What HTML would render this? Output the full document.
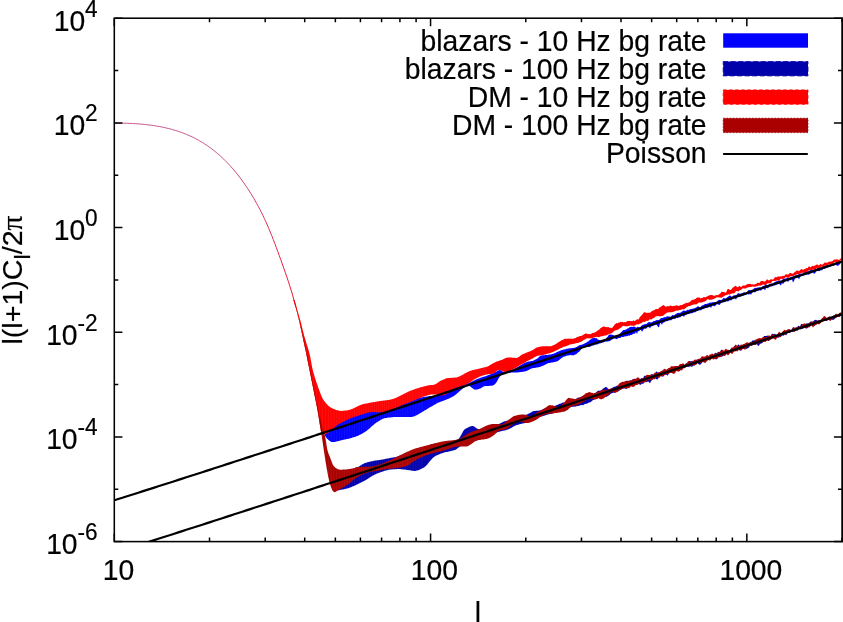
<!DOCTYPE html>
<html><head><meta charset="utf-8"><title>plot</title>
<style>html,body{margin:0;padding:0;background:#fff}body{width:843px;height:622px;overflow:hidden}</style></head>
<body><svg width="843" height="622" viewBox="0 0 843 622" style="display:block;will-change:transform;font-family:'Liberation Sans',sans-serif" fill="#000">
<style>text{stroke:#000;stroke-width:0.2px}</style>
<rect width="843" height="622" fill="#fff"/>
<defs><linearGradient id="tg" gradientUnits="userSpaceOnUse" x1="0" y1="150" x2="0" y2="300"><stop offset="0" stop-color="#c4508a"/><stop offset="0.5" stop-color="#dc3058"/><stop offset="1" stop-color="#f01030"/></linearGradient><clipPath id="c"><rect x="114.3" y="18.2" width="727.75" height="523.4"/></clipPath></defs>
<g clip-path="url(#c)">
<polygon id="pb" fill="#0000ff" points="324.5,435.0 325.5,436.5 326.5,437.9 327.5,439.0 328.5,439.9 329.5,440.8 330.5,441.6 331.5,442.0 332.5,442.1 333.5,442.0 334.5,441.9 335.5,441.7 336.5,441.5 337.5,441.2 338.5,440.9 339.5,440.7 340.5,440.4 341.5,440.2 342.5,440.0 343.5,439.8 344.5,439.6 345.5,439.4 346.5,439.1 347.5,438.9 348.5,438.7 349.5,438.4 350.5,438.2 351.5,437.9 352.5,437.6 353.5,437.3 354.5,437.0 355.5,436.7 356.5,436.3 357.5,435.9 358.5,435.4 359.5,435.0 360.5,434.4 361.5,433.9 362.5,433.4 363.5,432.8 364.5,432.2 365.5,431.6 366.5,430.9 367.5,430.1 368.5,429.3 369.5,428.4 370.5,427.5 371.5,426.6 372.5,425.7 373.5,424.9 374.5,424.0 375.5,423.2 376.5,422.6 377.5,421.9 378.5,421.3 379.5,420.7 380.5,420.1 381.5,419.5 382.5,419.0 383.5,418.6 384.5,418.2 385.5,418.0 386.5,417.9 387.5,417.7 388.5,417.6 389.5,417.5 390.5,417.4 391.5,417.3 392.5,417.2 393.5,417.1 394.5,417.1 395.5,417.0 396.5,417.0 397.5,417.0 398.5,417.0 399.5,417.0 400.5,417.0 401.5,417.1 402.5,417.1 403.5,417.1 404.5,417.1 405.5,417.1 406.5,417.1 407.5,417.1 408.5,417.1 409.5,417.1 410.5,417.1 411.5,416.9 412.5,416.7 413.5,416.5 414.5,416.2 415.5,415.8 416.5,415.3 417.5,414.8 418.5,414.2 419.5,413.6 420.5,413.0 421.5,412.4 422.5,411.8 423.5,411.2 424.5,410.6 425.5,410.0 426.5,409.4 427.5,408.8 428.5,408.2 429.5,407.6 430.5,407.0 431.5,406.4 432.5,405.9 433.5,405.3 434.5,404.7 435.5,404.2 436.5,403.6 437.5,403.1 438.5,402.6 439.5,402.2 440.5,401.8 441.5,401.4 442.5,401.0 443.5,400.7 444.5,400.3 445.5,399.9 446.5,399.6 447.5,399.1 448.5,398.7 449.5,398.3 450.5,397.8 451.5,397.3 452.5,396.8 453.5,396.2 454.5,395.6 455.5,394.8 456.5,394.0 457.5,393.1 458.5,392.2 459.5,391.3 460.5,390.5 461.5,389.6 462.5,388.7 463.5,387.9 464.5,387.2 465.5,386.7 466.5,386.4 467.5,386.1 468.5,385.9 469.5,385.8 470.5,386.7 471.5,387.5 472.5,388.3 473.5,389.0 474.5,389.4 475.5,389.7 476.5,389.6 477.5,389.4 478.5,389.1 479.5,388.8 480.5,388.4 481.5,387.8 482.5,387.2 483.5,386.6 484.5,386.3 485.5,386.1 486.5,386.0 487.5,386.0 488.5,385.9 489.5,385.8 490.5,385.8 491.5,385.7 492.5,385.5 493.5,385.3 494.5,384.6 495.5,383.5 496.5,382.2 497.5,380.6 498.5,378.5 499.5,376.9 500.5,375.8 501.5,374.9 502.5,374.4 503.5,374.0 504.5,373.7 505.5,373.4 506.5,373.1 507.5,372.9 508.5,372.8 509.5,372.7 510.5,372.7 511.5,372.6 512.5,372.6 513.5,372.5 514.5,372.5 515.5,372.5 516.5,372.4 517.5,372.4 518.5,372.3 519.5,372.2 520.5,372.1 521.5,372.0 522.5,371.8 523.5,371.7 524.5,371.5 525.5,371.3 526.5,370.9 527.5,370.5 528.5,370.0 529.5,369.4 530.5,369.0 531.5,368.6 532.5,368.3 533.5,368.1 534.5,367.9 535.5,367.8 536.5,367.6 537.5,367.4 538.5,367.2 539.5,367.0 540.5,366.7 541.5,366.3 542.5,365.9 543.5,365.4 544.5,364.9 545.5,364.5 546.5,364.0 547.5,363.5 548.5,363.1 549.5,362.9 550.5,362.7 551.5,362.6 552.5,362.5 553.5,362.3 554.5,362.1 555.5,361.8 556.5,361.6 557.5,361.2 558.5,360.4 559.5,359.8 560.5,359.1 561.5,358.1 562.5,357.5 563.5,356.8 564.5,356.4 565.5,356.2 566.5,355.8 567.5,355.4 568.5,355.4 569.5,355.2 570.5,355.0 571.5,355.3 572.5,355.3 573.5,355.4 574.5,354.8 575.5,354.5 576.5,354.0 577.5,353.1 578.5,352.1 579.5,351.4 580.5,350.0 581.5,348.9 582.5,347.4 583.5,346.9 584.5,346.2 585.5,346.8 586.5,346.7 587.5,346.9 588.5,346.7 589.5,347.1 590.5,346.6 591.5,345.8 592.5,345.6 593.5,345.5 594.5,344.9 595.5,344.6 596.5,344.6 597.5,344.4 598.5,343.8 599.5,343.4 600.5,343.3 601.5,343.1 602.5,342.6 603.5,342.6 604.5,341.8 605.5,341.6 606.5,341.6 607.5,341.6 608.5,341.3 609.5,341.3 610.5,340.6 611.5,339.9 612.5,339.2 613.5,338.8 614.5,338.4 615.5,338.7 616.5,339.2 617.5,338.8 618.5,338.0 619.5,338.0 620.5,337.9 621.5,336.8 622.5,336.9 623.5,337.0 624.5,336.6 625.5,336.3 626.5,336.2 627.5,336.1 628.5,335.6 629.5,335.8 630.5,335.1 631.5,335.0 632.5,334.3 633.5,333.8 634.5,333.4 635.0,333.7 636.0,331.7 637.0,334.3 638.0,330.8 639.0,331.4 640.0,330.0 641.0,329.9 642.0,331.7 643.0,330.3 644.0,328.8 645.0,328.4 646.0,329.1 647.0,327.6 648.0,327.3 649.0,326.9 650.0,328.5 651.0,326.5 652.0,326.2 653.0,325.8 654.0,325.4 655.0,325.0 656.0,324.7 657.0,325.0 658.0,326.9 659.0,327.2 660.0,323.5 661.0,323.1 662.0,324.9 663.0,322.4 664.0,322.7 665.0,321.6 666.0,321.3 667.0,321.2 668.0,320.8 669.0,320.5 670.0,320.1 671.0,320.5 672.0,319.4 673.0,318.9 674.0,318.6 675.0,319.3 676.0,317.9 677.0,317.8 678.0,318.3 679.0,316.9 680.0,317.4 681.0,316.4 682.0,316.1 683.0,315.8 684.0,316.9 685.0,315.0 686.0,314.8 687.0,314.5 688.0,314.0 689.0,313.9 690.0,313.6 691.0,313.2 692.0,313.2 693.0,312.9 694.0,312.0 695.0,312.4 696.0,311.5 697.0,311.2 698.0,310.7 699.0,310.4 700.0,309.9 701.0,310.5 702.0,309.3 703.0,309.2 704.0,308.7 705.0,308.3 706.0,308.1 707.0,307.7 708.0,307.7 709.0,306.9 710.0,306.6 711.0,307.9 712.0,306.1 713.0,305.6 714.0,306.3 715.0,306.3 716.0,304.7 717.0,304.3 718.0,304.2 719.0,305.1 720.0,304.5 721.0,302.9 722.0,302.6 723.0,302.5 724.0,302.2 725.0,301.9 726.0,301.4 727.0,301.1 728.0,301.7 729.0,300.4 730.0,300.3 731.0,300.4 732.0,299.5 733.0,298.9 734.0,298.6 735.0,298.4 736.0,299.7 737.0,297.6 738.0,297.3 739.0,297.0 740.0,296.7 741.0,296.4 742.0,296.0 743.0,295.8 744.0,295.4 745.0,295.0 746.0,294.7 747.0,294.4 748.0,294.1 749.0,294.7 750.0,293.5 751.0,295.0 752.0,292.8 753.0,292.3 754.0,292.0 755.0,292.6 756.0,291.4 757.0,291.0 758.0,290.7 759.0,290.4 760.0,290.2 761.0,290.7 762.0,289.3 763.0,289.3 764.0,288.8 765.0,290.4 766.0,288.1 767.0,287.7 768.0,288.5 769.0,287.1 770.0,286.8 771.0,286.3 772.0,286.6 773.0,285.8 774.0,285.5 775.0,285.5 776.0,284.8 777.0,284.6 778.0,284.2 779.0,283.6 780.0,284.8 781.0,285.5 782.0,282.7 783.0,284.2 784.0,282.4 785.0,281.8 786.0,281.3 787.0,281.0 788.0,281.9 789.0,280.6 790.0,280.2 791.0,279.7 792.0,279.5 793.0,282.5 794.0,281.0 795.0,278.3 796.0,278.2 797.0,277.8 798.0,277.5 799.0,279.4 800.0,276.9 801.0,276.3 802.0,276.1 803.0,275.8 804.0,275.5 805.0,275.0 806.0,274.6 807.0,274.6 808.0,274.5 809.0,274.7 810.0,273.6 811.0,273.2 812.0,273.2 813.0,272.3 814.0,273.8 815.0,273.5 816.0,271.4 817.0,271.1 818.0,270.9 819.0,271.3 820.0,270.8 821.0,269.9 822.0,270.5 823.0,268.9 824.0,268.6 825.0,269.1 826.0,268.0 827.0,267.7 828.0,267.4 829.0,267.1 830.0,266.9 831.0,266.3 832.0,265.9 833.0,265.7 834.0,265.4 835.0,265.0 836.0,264.6 837.0,265.9 838.0,265.5 839.0,265.3 840.0,263.5 841.0,263.0 842.0,262.7 842.0,260.8 841.0,261.2 840.0,261.2 839.0,261.4 838.0,261.7 837.0,261.6 836.0,262.2 835.0,262.9 834.0,263.5 833.0,264.1 832.0,264.4 831.0,263.8 830.0,264.0 829.0,265.0 828.0,265.3 827.0,265.0 826.0,265.2 825.0,266.0 824.0,266.3 823.0,265.9 822.0,266.9 821.0,268.0 820.0,267.5 819.0,267.4 818.0,267.9 817.0,268.4 816.0,269.3 815.0,269.4 814.0,269.1 813.0,269.9 812.0,270.3 811.0,269.8 810.0,270.6 809.0,271.3 808.0,271.4 807.0,271.2 806.0,271.2 805.0,272.1 804.0,272.8 803.0,273.4 802.0,273.8 801.0,273.5 800.0,273.8 799.0,274.2 798.0,274.4 797.0,275.2 796.0,275.2 795.0,275.2 794.0,276.2 793.0,276.5 792.0,276.7 791.0,276.7 790.0,277.4 789.0,278.0 788.0,277.7 787.0,278.0 786.0,278.4 785.0,278.6 784.0,278.7 783.0,279.0 782.0,280.2 781.0,280.7 780.0,280.4 779.0,280.7 778.0,281.2 777.0,281.1 776.0,281.5 775.0,281.9 774.0,282.4 773.0,283.4 772.0,283.5 771.0,283.8 770.0,283.8 769.0,284.6 768.0,285.0 767.0,284.7 766.0,284.5 765.0,285.1 764.0,285.9 763.0,285.8 762.0,286.7 761.0,287.8 760.0,287.5 759.0,287.3 758.0,287.5 757.0,287.7 756.0,287.9 755.0,287.7 754.0,288.6 753.0,289.6 752.0,289.7 751.0,290.2 750.0,290.3 749.0,289.7 748.0,290.7 747.0,292.0 746.0,292.7 745.0,292.7 744.0,292.2 743.0,292.8 742.0,293.5 741.0,293.5 740.0,293.7 739.0,293.5 738.0,293.1 737.0,294.4 736.0,295.2 735.0,295.3 734.0,295.2 733.0,295.8 732.0,296.9 731.0,296.1 730.0,295.5 729.0,296.0 728.0,296.7 727.0,297.5 726.0,298.3 725.0,298.4 724.0,297.9 723.0,298.5 722.0,299.7 721.0,300.1 720.0,300.0 719.0,299.8 718.0,300.4 717.0,301.5 716.0,301.9 715.0,302.0 714.0,302.3 713.0,302.2 712.0,302.2 711.0,302.8 710.0,302.6 709.0,302.9 708.0,303.6 707.0,303.8 706.0,303.9 705.0,303.9 704.0,304.7 703.0,305.3 702.0,305.5 701.0,306.5 700.0,307.6 699.0,306.7 698.0,306.0 697.0,307.0 696.0,307.5 695.0,308.1 694.0,308.4 693.0,308.6 692.0,309.0 691.0,309.0 690.0,309.3 689.0,309.8 688.0,309.9 687.0,309.8 686.0,311.0 685.0,310.8 684.0,310.5 683.0,310.9 682.0,311.5 681.0,312.5 680.0,312.8 679.0,312.9 678.0,312.7 677.0,313.2 676.0,314.0 675.0,314.4 674.0,315.4 673.0,315.0 672.0,315.2 671.0,316.7 670.0,316.6 669.0,316.4 668.0,316.5 667.0,316.2 666.0,316.9 665.0,317.3 664.0,317.1 663.0,317.9 662.0,318.1 661.0,318.1 660.0,319.2 659.0,319.8 658.0,320.2 657.0,320.1 656.0,320.2 655.0,321.1 654.0,321.1 653.0,321.4 652.0,322.3 651.0,322.5 650.0,322.2 649.0,321.9 648.0,322.5 647.0,323.5 646.0,324.2 645.0,324.1 644.0,324.6 643.0,324.8 642.0,325.2 641.0,326.3 640.0,327.3 639.0,327.2 638.0,326.8 637.0,327.3 636.0,327.7 635.0,326.8 634.5,326.8 633.5,326.6 632.5,326.9 631.5,326.8 630.5,326.9 629.5,327.3 628.5,328.3 627.5,328.6 626.5,329.2 625.5,329.7 624.5,330.1 623.5,330.0 622.5,330.7 621.5,331.9 620.5,332.9 619.5,333.7 618.5,334.9 617.5,335.9 616.5,336.1 615.5,335.8 614.5,335.7 613.5,335.3 612.5,334.8 611.5,334.8 610.5,334.5 609.5,334.5 608.5,335.2 607.5,336.9 606.5,337.8 605.5,339.2 604.5,340.1 603.5,341.0 602.5,341.0 601.5,340.9 600.5,340.3 599.5,340.1 598.5,339.7 597.5,339.2 596.5,338.1 595.5,338.2 594.5,338.0 593.5,337.7 592.5,338.2 591.5,339.0 590.5,339.4 589.5,340.2 588.5,341.3 587.5,341.7 586.5,342.4 585.5,343.0 584.5,343.5 583.5,343.9 582.5,344.4 581.5,344.8 580.5,345.1 579.5,345.3 578.5,345.7 577.5,346.5 576.5,347.1 575.5,347.5 574.5,347.8 573.5,348.1 572.5,348.1 571.5,348.2 570.5,348.3 569.5,348.3 568.5,348.6 567.5,348.7 566.5,348.8 565.5,349.2 564.5,349.5 563.5,349.6 562.5,349.9 561.5,350.2 560.5,350.4 559.5,350.9 558.5,351.4 557.5,351.8 556.5,352.3 555.5,352.9 554.5,353.3 553.5,353.7 552.5,354.0 551.5,354.2 550.5,354.5 549.5,354.6 548.5,354.8 547.5,355.0 546.5,355.1 545.5,355.1 544.5,355.2 543.5,355.2 542.5,355.3 541.5,355.4 540.5,355.8 539.5,356.6 538.5,357.6 537.5,358.4 536.5,359.0 535.5,359.6 534.5,360.1 533.5,360.5 532.5,360.9 531.5,361.1 530.5,361.2 529.5,361.4 528.5,361.6 527.5,361.8 526.5,362.2 525.5,362.6 524.5,363.1 523.5,363.6 522.5,364.1 521.5,364.7 520.5,365.2 519.5,365.8 518.5,366.4 517.5,367.0 516.5,367.6 515.5,368.3 514.5,368.8 513.5,369.3 512.5,369.7 511.5,370.1 510.5,370.4 509.5,370.8 508.5,371.1 507.5,371.4 506.5,371.6 505.5,371.8 504.5,371.9 503.5,371.9 502.5,371.4 501.5,370.8 500.5,370.2 499.5,370.1 498.5,370.4 497.5,370.8 496.5,371.4 495.5,372.1 494.5,372.6 493.5,373.1 492.5,373.5 491.5,373.9 490.5,374.3 489.5,374.7 488.5,375.1 487.5,375.5 486.5,375.8 485.5,376.2 484.5,376.5 483.5,376.8 482.5,377.1 481.5,377.5 480.5,377.8 479.5,378.2 478.5,378.5 477.5,378.9 476.5,379.3 475.5,379.7 474.5,380.2 473.5,380.7 472.5,381.2 471.5,381.7 470.5,382.2 469.5,382.7 468.5,383.1 467.5,383.6 466.5,384.0 465.5,384.3 464.5,384.6 463.5,384.9 462.5,385.1 461.5,385.3 460.5,385.5 459.5,385.7 458.5,386.0 457.5,386.3 456.5,386.7 455.5,387.2 454.5,387.7 453.5,388.2 452.5,388.7 451.5,389.3 450.5,389.9 449.5,390.5 448.5,391.2 447.5,391.9 446.5,392.5 445.5,393.1 444.5,393.6 443.5,394.0 442.5,394.3 441.5,394.5 440.5,394.7 439.5,394.9 438.5,395.1 437.5,395.3 436.5,395.4 435.5,395.6 434.5,395.7 433.5,395.8 432.5,395.9 431.5,395.9 430.5,396.0 429.5,396.1 428.5,396.3 427.5,396.4 426.5,396.5 425.5,396.7 424.5,396.8 423.5,397.0 422.5,397.2 421.5,397.3 420.5,397.5 419.5,397.8 418.5,398.0 417.5,398.3 416.5,398.7 415.5,399.1 414.5,399.5 413.5,399.9 412.5,400.5 411.5,401.0 410.5,401.3 409.5,401.5 408.5,401.6 407.5,401.7 406.5,401.7 405.5,401.7 404.5,401.8 403.5,401.8 402.5,401.8 401.5,401.9 400.5,402.0 399.5,402.1 398.5,402.2 397.5,402.5 396.5,402.9 395.5,403.3 394.5,403.8 393.5,404.4 392.5,404.9 391.5,405.5 390.5,406.1 389.5,406.7 388.5,407.3 387.5,407.9 386.5,408.4 385.5,408.9 384.5,409.3 383.5,409.6 382.5,409.9 381.5,410.1 380.5,410.2 379.5,410.4 378.5,410.5 377.5,410.6 376.5,410.7 375.5,410.8 374.5,410.8 373.5,410.9 372.5,411.0 371.5,411.0 370.5,411.1 369.5,411.2 368.5,411.3 367.5,411.4 366.5,411.4 365.5,411.5 364.5,411.7 363.5,411.8 362.5,411.9 361.5,412.1 360.5,412.3 359.5,412.5 358.5,412.7 357.5,413.0 356.5,413.3 355.5,413.7 354.5,414.0 353.5,414.4 352.5,414.8 351.5,415.2 350.5,415.7 349.5,416.1 348.5,416.6 347.5,417.1 346.5,417.6 345.5,418.1 344.5,418.6 343.5,419.1 342.5,419.6 341.5,420.2 340.5,420.7 339.5,421.3 338.5,421.9 337.5,422.5 336.5,423.1 335.5,423.8 334.5,424.5 333.5,425.3 332.5,426.1 331.5,426.9 330.5,427.7 329.5,428.5 328.5,429.4 327.5,430.3 326.5,431.2 325.5,432.1 324.5,433.0"/>
<polygon id="pdb" fill="#0000ae" points="338.0,490.5 339.0,490.3 340.0,490.1 341.0,489.8 342.0,489.6 343.0,489.4 344.0,489.2 345.0,489.0 346.0,488.8 347.0,488.5 348.0,488.3 349.0,488.0 350.0,487.6 351.0,487.2 352.0,486.8 353.0,486.3 354.0,485.9 355.0,485.4 356.0,485.0 357.0,484.5 358.0,484.0 359.0,483.6 360.0,483.1 361.0,482.5 362.0,482.0 363.0,481.5 364.0,481.0 365.0,480.4 366.0,479.9 367.0,479.3 368.0,478.7 369.0,478.0 370.0,477.3 371.0,476.7 372.0,476.1 373.0,475.5 374.0,474.9 375.0,474.5 376.0,474.0 377.0,473.6 378.0,473.2 379.0,472.8 380.0,472.4 381.0,472.1 382.0,471.7 383.0,471.4 384.0,471.1 385.0,470.8 386.0,470.5 387.0,470.2 388.0,469.9 389.0,469.7 390.0,469.6 391.0,469.5 392.0,469.4 393.0,469.3 394.0,469.3 395.0,469.2 396.0,469.2 397.0,469.1 398.0,469.1 399.0,469.1 400.0,469.1 401.0,469.2 402.0,469.3 403.0,469.4 404.0,469.5 405.0,469.6 406.0,469.7 407.0,469.9 408.0,470.0 409.0,470.2 410.0,470.3 411.0,470.5 412.0,470.7 413.0,470.8 414.0,470.9 415.0,470.9 416.0,470.8 417.0,470.6 418.0,470.3 419.0,469.9 420.0,469.5 421.0,469.1 422.0,468.6 423.0,468.1 424.0,467.5 425.0,466.8 426.0,465.8 427.0,464.7 428.0,463.5 429.0,462.3 430.0,461.1 431.0,459.9 432.0,458.8 433.0,457.8 434.0,457.0 435.0,456.3 436.0,455.8 437.0,455.3 438.0,454.8 439.0,454.4 440.0,454.0 441.0,453.6 442.0,453.3 443.0,452.9 444.0,452.6 445.0,452.3 446.0,452.1 447.0,451.9 448.0,451.7 449.0,451.5 450.0,451.3 451.0,451.1 452.0,450.8 453.0,450.6 454.0,450.3 455.0,449.9 456.0,449.4 457.0,448.7 458.0,447.9 459.0,447.2 460.0,446.5 461.0,445.9 462.0,445.4 463.0,445.0 464.0,444.6 465.0,444.2 466.0,443.9 467.0,443.5 468.0,443.2 469.0,442.9 470.0,442.5 471.0,442.2 472.0,441.9 473.0,441.6 474.0,441.3 475.0,441.0 476.0,440.7 477.0,440.4 478.0,440.1 479.0,439.9 480.0,439.6 481.0,439.3 482.0,439.1 483.0,438.8 484.0,438.5 485.0,438.2 486.0,437.9 487.0,437.5 488.0,437.1 489.0,436.6 490.0,436.0 491.0,435.4 492.0,434.8 493.0,434.2 494.0,433.6 495.0,433.1 496.0,432.7 497.0,432.3 498.0,432.0 499.0,431.7 500.0,431.5 501.0,431.3 502.0,431.1 503.0,430.8 504.0,430.6 505.0,430.4 506.0,430.1 507.0,429.8 508.0,429.5 509.0,429.0 510.0,428.5 511.0,428.0 512.0,427.4 513.0,426.8 514.0,426.2 515.0,425.7 516.0,425.3 517.0,425.0 518.0,424.7 519.0,424.4 520.0,424.1 521.0,423.9 522.0,423.6 523.0,423.4 524.0,423.2 525.0,423.0 526.0,422.8 527.0,422.7 528.0,422.5 529.0,422.3 530.0,422.0 531.0,421.6 532.0,421.1 533.0,420.5 534.0,419.8 535.0,419.1 536.0,418.5 537.0,417.9 538.0,417.5 539.0,417.2 540.0,416.9 541.0,416.6 542.0,416.4 543.0,416.1 544.0,415.8 545.0,415.5 546.0,415.1 547.0,414.8 548.0,414.5 549.0,414.2 550.0,414.0 551.0,413.9 552.0,413.6 553.0,413.3 554.0,413.2 555.0,412.7 556.0,412.2 557.0,411.8 558.0,411.3 559.0,410.6 560.0,410.4 561.0,410.3 562.0,410.1 563.0,409.9 564.0,409.8 565.0,409.5 566.0,409.3 567.0,408.8 568.0,408.4 569.0,407.7 570.0,407.4 571.0,407.0 572.0,406.7 573.0,406.7 574.0,406.6 575.0,406.7 576.0,406.2 577.0,406.3 578.0,405.7 579.0,406.1 580.0,405.2 581.0,405.3 582.0,404.9 583.0,405.2 584.0,404.6 585.0,404.1 586.0,403.7 587.0,403.7 588.0,403.1 589.0,402.6 590.0,402.5 591.0,401.7 592.0,401.0 593.0,400.0 594.0,399.7 595.0,399.3 596.0,398.4 597.0,397.9 598.0,397.4 599.0,396.7 600.0,395.8 601.0,395.8 602.0,395.2 603.0,395.4 604.0,395.6 605.0,396.1 606.0,397.0 607.0,396.5 608.0,395.9 609.0,395.2 610.0,394.4 611.0,393.5 612.0,393.3 613.0,392.8 614.0,392.6 615.0,393.1 616.0,392.1 617.0,391.5 618.0,391.5 619.0,391.1 620.0,389.9 621.0,389.6 622.0,389.2 623.0,388.4 624.0,388.3 625.0,388.6 626.0,389.1 627.0,388.5 628.0,388.1 629.0,386.9 630.0,386.0 631.0,385.0 632.0,385.3 633.0,385.5 634.0,385.2 635.0,384.8 636.0,383.7 637.0,382.8 638.0,384.0 639.0,383.8 640.0,384.9 641.0,384.6 642.0,383.4 643.0,383.9 644.0,382.9 645.0,381.6 646.0,382.1 647.0,382.3 648.0,381.2 649.0,382.2 650.0,383.2 651.0,381.2 652.0,379.9 653.0,379.4 654.0,378.5 655.0,378.6 656.0,378.8 657.0,379.7 658.0,378.8 659.0,377.1 660.0,376.6 661.0,376.1 662.0,376.7 663.0,376.2 664.0,374.7 665.0,375.0 666.0,374.4 667.0,375.2 668.0,375.4 669.0,372.8 670.0,372.3 671.0,373.1 672.0,372.8 673.0,373.2 674.0,373.2 675.0,371.4 676.0,370.4 677.0,370.5 678.0,370.6 679.0,371.4 680.0,370.7 681.0,368.5 682.0,366.7 683.0,367.4 684.0,368.4 685.0,367.7 686.0,366.9 687.0,366.8 688.0,366.7 689.0,366.7 690.0,366.5 691.0,366.3 692.0,366.9 693.0,365.8 694.0,365.5 695.0,365.5 696.0,363.8 697.0,362.6 698.0,363.5 699.0,364.6 700.0,364.7 701.0,364.1 702.0,362.8 703.0,361.6 704.0,362.2 705.0,361.8 706.0,361.0 707.0,360.8 708.0,359.7 709.0,360.2 710.0,360.2 711.0,358.1 712.0,356.0 713.0,356.8 714.0,358.2 715.0,358.7 716.0,359.4 717.0,358.9 718.0,357.3 719.0,356.9 720.0,357.5 721.0,356.6 722.0,356.9 723.0,355.7 724.0,355.0 725.0,356.0 726.0,354.2 727.0,353.1 728.0,354.1 729.0,354.3 730.0,352.2 731.0,351.7 732.0,352.0 733.0,351.0 734.0,350.4 735.0,351.1 736.0,351.6 737.0,349.9 738.0,349.0 739.0,350.1 740.0,350.5 741.0,350.8 742.0,349.5 743.0,347.8 744.0,347.0 745.0,347.6 746.0,349.1 747.0,348.5 748.0,348.3 749.0,347.5 750.0,345.8 751.0,345.3 752.0,346.3 753.0,344.3 754.0,342.8 755.0,345.3 756.0,344.6 757.0,344.3 758.0,345.9 759.0,345.5 760.0,344.0 761.0,343.4 762.0,343.3 763.0,342.3 764.0,341.5 765.0,341.4 766.0,340.7 767.0,340.0 768.0,341.1 769.0,341.0 770.0,339.3 771.0,339.2 772.0,338.7 773.0,337.5 774.0,337.9 775.0,338.3 776.0,338.2 777.0,337.6 778.0,337.7 779.0,337.4 780.0,336.7 781.0,336.0 782.0,335.1 783.0,335.9 784.0,335.2 785.0,334.3 786.0,335.4 787.0,334.0 788.0,332.2 789.0,332.5 790.0,332.8 791.0,332.1 792.0,331.7 793.0,331.6 794.0,330.8 795.0,330.1 796.0,330.1 797.0,330.7 798.0,330.2 799.0,328.7 800.0,329.1 801.0,329.3 802.0,328.7 803.0,328.7 804.0,328.0 805.0,327.9 806.0,328.5 807.0,328.5 808.0,327.4 809.0,327.1 810.0,326.0 811.0,325.0 812.0,325.6 813.0,325.3 814.0,325.7 815.0,325.5 816.0,323.4 817.0,322.7 818.0,323.3 819.0,323.3 820.0,322.7 821.0,322.5 822.0,321.1 823.0,319.8 824.0,320.6 825.0,320.7 826.0,321.1 827.0,321.0 828.0,319.7 829.0,320.0 830.0,320.2 831.0,319.8 832.0,319.5 833.0,320.0 834.0,319.4 835.0,318.4 836.0,317.7 837.0,316.5 838.0,316.1 839.0,317.0 840.0,316.8 841.0,315.5 842.0,315.0 842.0,313.3 841.0,313.8 840.0,313.8 839.0,313.6 838.0,314.2 837.0,315.5 836.0,315.3 835.0,315.6 834.0,315.7 833.0,315.5 832.0,316.9 831.0,317.3 830.0,316.2 829.0,316.9 828.0,317.8 827.0,318.0 826.0,318.7 825.0,319.0 824.0,317.8 823.0,318.1 822.0,319.4 821.0,319.7 820.0,320.2 819.0,320.7 818.0,321.3 817.0,320.4 816.0,319.8 815.0,320.1 814.0,320.5 813.0,321.8 812.0,322.0 811.0,321.3 810.0,322.1 809.0,323.0 808.0,323.6 807.0,323.3 806.0,323.7 805.0,324.3 804.0,323.8 803.0,325.1 802.0,323.8 801.0,324.2 800.0,326.8 799.0,326.1 798.0,325.8 797.0,327.9 796.0,328.9 795.0,328.2 794.0,327.5 793.0,326.9 792.0,329.4 791.0,331.1 790.0,328.8 789.0,329.9 788.0,331.5 787.0,330.2 786.0,331.0 785.0,331.1 784.0,332.0 783.0,333.2 782.0,333.1 781.0,334.1 780.0,333.0 779.0,333.1 778.0,333.8 777.0,334.6 776.0,334.8 775.0,333.5 774.0,334.5 773.0,333.9 772.0,333.5 771.0,335.5 770.0,336.9 769.0,336.0 768.0,335.6 767.0,335.7 766.0,336.0 765.0,336.1 764.0,336.1 763.0,338.2 762.0,338.8 761.0,338.7 760.0,338.9 759.0,340.0 758.0,341.5 757.0,340.7 756.0,339.5 755.0,340.1 754.0,340.8 753.0,340.0 752.0,341.2 751.0,342.2 750.0,341.7 749.0,343.5 748.0,343.2 747.0,342.6 746.0,344.4 745.0,344.8 744.0,343.9 743.0,344.9 742.0,345.6 741.0,346.1 740.0,346.1 739.0,344.7 738.0,344.4 737.0,346.3 736.0,347.8 735.0,346.3 734.0,346.0 733.0,348.3 732.0,348.3 731.0,348.5 730.0,349.7 729.0,350.5 728.0,350.0 727.0,350.0 726.0,351.5 725.0,351.2 724.0,351.6 723.0,351.0 722.0,349.5 721.0,350.1 720.0,352.1 719.0,351.9 718.0,351.8 717.0,353.5 716.0,353.1 715.0,352.7 714.0,354.5 713.0,355.0 712.0,355.8 711.0,356.8 710.0,355.8 709.0,356.0 708.0,356.0 707.0,355.4 706.0,356.2 705.0,357.0 704.0,357.2 703.0,356.8 702.0,357.3 701.0,358.4 700.0,358.5 699.0,359.3 698.0,360.0 697.0,360.0 696.0,359.4 695.0,360.1 694.0,361.3 693.0,360.8 692.0,361.1 691.0,361.6 690.0,361.1 689.0,361.1 688.0,363.8 687.0,363.4 686.0,363.1 685.0,365.0 684.0,365.0 683.0,364.8 682.0,365.3 681.0,364.8 680.0,364.2 679.0,365.9 678.0,366.5 677.0,366.1 676.0,365.9 675.0,366.4 674.0,367.3 673.0,366.7 672.0,367.8 671.0,369.7 670.0,369.6 669.0,369.1 668.0,368.9 667.0,369.2 666.0,370.5 665.0,370.4 664.0,369.5 663.0,370.4 662.0,370.8 661.0,371.4 660.0,372.0 659.0,371.9 658.0,373.0 657.0,371.8 656.0,371.6 655.0,374.0 654.0,374.3 653.0,374.6 652.0,373.9 651.0,374.5 650.0,376.5 649.0,376.1 648.0,375.4 647.0,375.9 646.0,376.5 645.0,375.4 644.0,376.2 643.0,378.5 642.0,377.9 641.0,378.5 640.0,379.0 639.0,378.3 638.0,377.9 637.0,378.0 636.0,380.1 635.0,379.9 634.0,379.7 633.0,379.0 632.0,380.0 631.0,380.2 630.0,380.6 629.0,380.4 628.0,381.3 627.0,380.6 626.0,382.2 625.0,383.0 624.0,383.3 623.0,383.7 622.0,385.1 621.0,383.8 620.0,383.8 619.0,384.9 618.0,385.6 617.0,385.4 616.0,386.4 615.0,386.6 614.0,387.0 613.0,387.2 612.0,388.3 611.0,388.6 610.0,388.9 609.0,389.0 608.0,388.8 607.0,387.5 606.0,387.0 605.0,387.2 604.0,388.3 603.0,388.4 602.0,389.7 601.0,390.3 600.0,391.0 599.0,390.6 598.0,390.8 597.0,391.6 596.0,392.7 595.0,393.1 594.0,393.6 593.0,394.7 592.0,394.6 591.0,394.8 590.0,394.7 589.0,394.6 588.0,394.6 587.0,394.8 586.0,394.6 585.0,395.5 584.0,395.6 583.0,395.9 582.0,396.2 581.0,396.9 580.0,397.2 579.0,397.7 578.0,397.5 577.0,398.3 576.0,399.0 575.0,399.0 574.0,399.5 573.0,400.4 572.0,400.0 571.0,400.0 570.0,400.5 569.0,400.8 568.0,401.3 567.0,401.8 566.0,402.1 565.0,402.4 564.0,402.6 563.0,402.6 562.0,402.9 561.0,403.4 560.0,403.7 559.0,404.1 558.0,404.7 557.0,405.0 556.0,405.5 555.0,405.8 554.0,406.2 553.0,406.4 552.0,406.9 551.0,407.0 550.0,407.3 549.0,407.4 548.0,407.6 547.0,407.9 546.0,408.1 545.0,408.4 544.0,408.9 543.0,409.4 542.0,409.8 541.0,410.3 540.0,410.5 539.0,410.6 538.0,410.7 537.0,410.7 536.0,410.8 535.0,410.9 534.0,411.0 533.0,411.3 532.0,411.8 531.0,412.4 530.0,413.0 529.0,413.5 528.0,413.9 527.0,414.4 526.0,414.8 525.0,415.2 524.0,415.5 523.0,415.7 522.0,415.9 521.0,416.1 520.0,416.2 519.0,416.4 518.0,416.6 517.0,416.8 516.0,417.0 515.0,417.4 514.0,417.9 513.0,418.4 512.0,419.0 511.0,419.6 510.0,420.0 509.0,420.3 508.0,420.6 507.0,420.8 506.0,421.1 505.0,421.3 504.0,421.6 503.0,422.0 502.0,422.4 501.0,422.9 500.0,423.4 499.0,423.9 498.0,424.4 497.0,424.8 496.0,425.2 495.0,425.5 494.0,425.7 493.0,425.9 492.0,426.1 491.0,426.3 490.0,426.4 489.0,426.6 488.0,426.8 487.0,427.0 486.0,427.3 485.0,427.6 484.0,428.0 483.0,428.4 482.0,428.7 481.0,429.0 480.0,429.2 479.0,429.3 478.0,429.1 477.0,428.6 476.0,427.9 475.0,427.1 474.0,426.5 473.0,426.1 472.0,426.1 471.0,426.3 470.0,426.6 469.0,426.9 468.0,427.4 467.0,427.9 466.0,428.5 465.0,429.1 464.0,430.1 463.0,431.6 462.0,433.4 461.0,435.2 460.0,437.0 459.0,438.4 458.0,439.3 457.0,439.8 456.0,440.3 455.0,440.7 454.0,441.0 453.0,441.4 452.0,441.7 451.0,441.9 450.0,442.2 449.0,442.4 448.0,442.6 447.0,442.7 446.0,442.9 445.0,443.0 444.0,443.1 443.0,443.2 442.0,443.3 441.0,443.3 440.0,443.4 439.0,443.4 438.0,443.5 437.0,443.6 436.0,443.6 435.0,443.7 434.0,443.8 433.0,443.9 432.0,444.1 431.0,444.4 430.0,444.7 429.0,445.1 428.0,445.5 427.0,445.9 426.0,446.4 425.0,446.9 424.0,447.3 423.0,447.8 422.0,448.2 421.0,448.6 420.0,449.0 419.0,449.3 418.0,449.6 417.0,449.9 416.0,450.2 415.0,450.5 414.0,450.8 413.0,451.1 412.0,451.4 411.0,451.7 410.0,452.0 409.0,452.3 408.0,452.7 407.0,453.0 406.0,453.4 405.0,453.8 404.0,454.1 403.0,454.5 402.0,454.9 401.0,455.2 400.0,455.6 399.0,456.0 398.0,456.3 397.0,456.7 396.0,456.9 395.0,457.2 394.0,457.3 393.0,457.5 392.0,457.7 391.0,457.8 390.0,458.0 389.0,458.2 388.0,458.4 387.0,458.6 386.0,458.8 385.0,459.0 384.0,459.2 383.0,459.4 382.0,459.6 381.0,459.7 380.0,459.9 379.0,460.0 378.0,460.2 377.0,460.3 376.0,460.5 375.0,460.6 374.0,460.8 373.0,461.0 372.0,461.2 371.0,461.4 370.0,461.6 369.0,461.9 368.0,462.1 367.0,462.4 366.0,462.7 365.0,463.1 364.0,463.5 363.0,464.1 362.0,464.6 361.0,465.2 360.0,465.8 359.0,466.4 358.0,466.9 357.0,467.4 356.0,467.9 355.0,468.3 354.0,468.6 353.0,469.0 352.0,469.3 351.0,469.7 350.0,470.1 349.0,470.5 348.0,471.0 347.0,471.6 346.0,472.2 345.0,473.0 344.0,474.1 343.0,475.7 342.0,477.7 341.0,480.0 340.0,482.6 339.0,485.3 338.0,488.0"/>
<path d="M114.3,123.1 L115.8,123.1 L117.3,123.1 L118.8,123.1 L120.3,123.1 L121.8,123.1 L123.3,123.2 L124.8,123.2 L126.3,123.3 L127.8,123.3 L129.3,123.4 L130.8,123.4 L132.3,123.5 L133.8,123.6 L135.3,123.7 L136.8,123.8 L138.3,123.9 L139.8,124.0 L141.3,124.1 L142.8,124.3 L144.3,124.4 L145.8,124.6 L147.3,124.8 L148.8,124.9 L150.3,125.1 L151.8,125.3 L153.3,125.5 L154.8,125.8 L156.3,126.0 L157.8,126.3 L159.3,126.5 L160.8,126.8 L162.3,127.1 L163.8,127.4 L165.3,127.8 L166.8,128.1 L168.3,128.5 L169.8,128.8 L171.3,129.2 L172.8,129.7 L174.3,130.1 L175.8,130.5 L177.3,131.0 L178.8,131.5 L180.3,132.0 L181.8,132.6 L183.3,133.1 L184.8,133.7 L186.3,134.3 L187.8,135.0 L189.3,135.6 L190.8,136.3 L192.3,137.0 L193.8,137.7 L195.3,138.5 L196.8,139.3 L198.3,140.1 L199.8,141.0 L201.3,141.8 L202.8,142.7 L204.3,143.7 L205.8,144.7 L207.3,145.7 L208.8,146.7 L210.3,147.8 L211.8,148.9 L213.3,150.1 L214.8,151.3 L216.3,152.5 L217.8,153.8 L219.3,155.1 L220.8,156.4 L222.3,157.8 L223.8,159.2 L225.3,160.7 L226.8,162.2 L228.3,163.8 L229.8,165.4 L231.3,167.1 L232.8,168.8 L234.3,170.5 L235.8,172.4 L237.3,174.2 L238.8,176.1 L240.3,178.1 L241.8,180.1 L243.3,182.2 L244.8,184.3 L246.3,186.5 L247.8,188.8 L249.3,191.1 L250.8,193.5 L252.3,195.9 L253.8,198.4 L255.3,201.0 L256.8,203.7 L258.3,206.4 L259.8,209.3 L261.3,212.2 L262.8,215.2 L264.3,218.4 L265.8,221.6 L267.3,225.0 L268.8,228.5 L270.3,232.1 L271.8,235.8 L273.3,239.6 L274.8,243.5 L276.3,247.5 L277.8,251.6 L279.3,255.7 L280.8,259.8 L282.3,264.0 L283.8,268.2 L285.3,272.5 L286.8,276.9 L288.3,281.3 L289.8,285.9 L291.3,290.7 L292.8,295.8 L294.3,301.1 L295.8,306.8" fill="none" stroke="url(#tg)" stroke-width="1"/>
<polygon id="pr" fill="#ff0000" points="293.5,300.0 294.1,302.0 294.7,304.0 295.2,306.0 295.8,308.0 296.3,310.0 296.9,312.0 297.4,314.0 297.9,316.0 298.4,318.0 298.9,320.0 299.4,322.0 299.8,324.0 300.3,326.0 300.7,328.0 301.2,330.0 301.6,332.0 302.0,334.0 302.4,336.0 302.9,338.0 303.3,340.0 303.7,342.0 304.2,344.0 304.6,346.0 305.0,348.0 305.5,350.0 305.9,352.0 306.3,354.0 306.7,356.0 307.1,358.0 307.5,360.0 307.9,362.0 308.3,364.0 308.7,366.0 309.1,368.0 309.5,370.0 309.9,372.0 310.3,374.0 310.7,376.0 311.1,378.0 311.5,380.0 311.9,382.0 312.3,384.0 312.7,386.0 313.1,388.0 313.5,390.0 313.9,392.0 314.3,394.0 314.7,396.0 315.1,398.0 315.5,400.0 315.9,402.0 316.3,404.0 316.7,406.0 317.1,408.0 317.5,410.0 317.8,412.0 318.2,414.0 318.5,416.0 318.8,418.0 319.1,420.0 319.4,422.0 319.7,424.0 320.1,426.0 320.4,428.0 320.7,430.0 321.1,432.0 321.4,434.0 324.5,434.7 324.0,434.6 325.0,434.3 326.0,434.0 327.0,433.5 328.0,433.0 329.0,432.3 330.0,431.4 331.0,430.5 332.0,429.5 333.0,428.6 334.0,427.8 335.0,427.0 336.0,426.1 337.0,425.4 338.0,424.7 339.0,424.1 340.0,423.6 341.0,423.0 342.0,422.5 343.0,422.0 344.0,421.4 345.0,420.9 346.0,420.4 347.0,419.9 348.0,419.5 349.0,419.0 350.0,418.6 351.0,418.2 352.0,417.8 353.0,417.5 354.0,417.1 355.0,416.7 356.0,416.4 357.0,416.0 358.0,415.7 359.0,415.4 360.0,415.1 361.0,414.8 362.0,414.5 363.0,414.2 364.0,413.9 365.0,413.6 366.0,413.3 367.0,413.0 368.0,412.8 369.0,412.5 370.0,412.3 371.0,412.2 372.0,412.1 373.0,412.1 374.0,412.1 375.0,412.1 376.0,412.2 377.0,412.2 378.0,412.2 379.0,412.2 380.0,412.3 381.0,412.3 382.0,412.3 383.0,412.3 384.0,412.2 385.0,412.0 386.0,411.7 387.0,411.4 388.0,411.0 389.0,410.6 390.0,410.2 391.0,409.8 392.0,409.4 393.0,409.1 394.0,408.6 395.0,408.2 396.0,407.8 397.0,407.3 398.0,406.9 399.0,406.4 400.0,406.0 401.0,405.6 402.0,405.2 403.0,404.8 404.0,404.4 405.0,404.0 406.0,403.6 407.0,403.3 408.0,402.9 409.0,402.5 410.0,402.1 411.0,401.7 412.0,401.3 413.0,400.9 414.0,400.5 415.0,400.0 416.0,399.6 417.0,399.2 418.0,398.8 419.0,398.4 420.0,398.0 421.0,397.6 422.0,397.2 423.0,396.8 424.0,396.4 425.0,396.1 426.0,395.9 427.0,395.6 428.0,395.3 429.0,395.0 430.0,394.8 431.0,394.6 432.0,394.5 433.0,394.4 434.0,394.4 435.0,394.4 436.0,394.5 437.0,394.7 438.0,394.8 439.0,395.0 440.0,395.1 441.0,395.2 442.0,395.3 443.0,395.4 444.0,395.3 445.0,395.0 446.0,394.5 447.0,393.8 448.0,393.2 449.0,392.5 450.0,391.7 451.0,390.8 452.0,390.0 453.0,389.2 454.0,388.6 455.0,388.2 456.0,387.8 457.0,387.5 458.0,387.3 459.0,387.0 460.0,386.6 461.0,386.3 462.0,385.9 463.0,385.6 464.0,385.2 465.0,384.9 466.0,384.5 467.0,384.1 468.0,383.6 469.0,383.1 470.0,382.5 471.0,381.8 472.0,381.1 473.0,380.3 474.0,379.6 475.0,379.0 476.0,378.4 477.0,377.9 478.0,377.4 479.0,377.0 480.0,376.6 481.0,376.2 482.0,375.8 483.0,375.5 484.0,375.2 485.0,374.9 486.0,374.6 487.0,374.4 488.0,374.2 489.0,374.1 490.0,374.0 491.0,373.9 492.0,373.7 493.0,373.5 494.0,373.2 495.0,372.5 496.0,371.6 497.0,370.8 498.0,370.2 499.0,369.9 500.0,370.1 501.0,370.5 502.0,371.0 503.0,371.5 504.0,371.8 505.0,371.9 506.0,371.8 507.0,371.6 508.0,371.3 509.0,370.9 510.0,370.5 511.0,370.1 512.0,369.6 513.0,369.2 514.0,368.7 515.0,368.2 516.0,367.7 517.0,367.0 518.0,366.4 519.0,365.8 520.0,365.2 521.0,364.6 522.0,364.1 523.0,363.5 524.0,362.9 525.0,362.4 526.0,361.8 527.0,361.3 528.0,360.7 529.0,360.2 530.0,359.7 531.0,359.2 532.0,358.7 533.0,358.2 534.0,357.6 535.0,357.0 536.0,356.5 537.0,356.1 538.0,355.8 539.0,355.6 540.0,355.4 541.0,355.2 542.0,355.1 543.0,354.9 544.0,354.7 545.0,354.4 546.0,354.2 547.0,353.9 548.0,353.6 549.0,353.4 550.0,353.1 551.0,352.7 552.0,352.3 553.0,351.9 554.0,351.5 555.0,351.0 556.0,350.5 557.0,350.0 558.0,349.7 559.0,349.0 560.0,348.5 561.0,348.1 562.0,347.7 563.0,347.0 564.0,346.8 565.0,346.5 566.0,346.2 567.0,345.8 568.0,345.5 569.0,345.1 570.0,344.6 571.0,344.3 572.0,344.2 573.0,343.9 574.0,343.8 575.0,343.6 576.0,343.2 577.0,342.9 578.0,343.0 579.0,342.5 580.0,341.9 581.0,341.8 582.0,341.2 583.0,340.5 584.0,339.7 585.0,339.5 586.0,338.7 587.0,338.3 588.0,338.3 589.0,338.4 590.0,338.3 591.0,338.4 592.0,338.2 593.0,337.8 594.0,337.4 595.0,337.2 596.0,337.0 597.0,336.8 598.0,337.1 599.0,337.2 600.0,336.8 601.0,336.2 602.0,336.3 603.0,335.9 604.0,335.7 605.0,335.5 606.0,335.4 607.0,334.9 608.0,334.6 609.0,334.1 610.0,333.8 611.0,333.5 612.0,333.0 613.0,332.2 614.0,331.1 615.0,330.6 616.0,330.3 617.0,330.0 618.0,329.4 619.0,329.2 620.0,328.1 621.0,327.7 622.0,326.4 623.0,326.1 624.0,325.8 625.0,326.4 626.0,326.1 627.0,326.4 628.0,326.0 629.0,325.9 630.0,325.6 631.0,325.6 632.0,325.8 633.0,325.8 634.0,325.7 635.0,325.5 636.0,324.7 637.0,324.2 638.0,324.5 639.0,324.3 640.0,323.4 641.0,323.5 642.0,322.8 643.0,321.8 644.0,321.7 645.0,322.0 646.0,320.8 647.0,320.8 648.0,321.0 649.0,319.9 650.0,319.1 651.0,319.8 652.0,319.1 653.0,318.2 654.0,318.1 655.0,317.1 656.0,316.3 657.0,316.2 658.0,316.0 659.0,316.3 660.0,316.6 661.0,316.1 662.0,316.0 663.0,315.7 664.0,315.1 665.0,313.9 666.0,313.5 667.0,312.6 668.0,312.5 669.0,312.2 670.0,312.3 671.0,312.3 672.0,312.2 673.0,311.7 674.0,311.7 675.0,311.1 676.0,310.7 677.0,310.6 678.0,310.7 679.0,309.9 680.0,309.9 681.0,309.7 682.0,309.2 683.0,309.2 684.0,309.5 685.0,308.5 686.0,307.8 687.0,307.0 688.0,306.4 689.0,305.9 690.0,305.9 691.0,305.4 692.0,304.9 693.0,304.7 694.0,304.4 695.0,304.2 696.0,304.6 697.0,303.9 698.0,303.3 699.0,302.6 700.0,302.6 701.0,302.7 702.0,302.3 703.0,302.1 704.0,301.7 705.0,301.3 706.0,300.8 707.0,299.6 708.0,299.1 709.0,299.7 710.0,299.8 711.0,299.7 712.0,299.6 713.0,299.2 714.0,299.1 715.0,298.3 716.0,297.7 717.0,297.2 718.0,297.3 719.0,297.6 720.0,297.4 721.0,297.7 722.0,297.5 723.0,296.7 724.0,296.3 725.0,295.4 726.0,295.0 727.0,295.2 728.0,294.3 729.0,294.4 730.0,294.4 731.0,293.8 732.0,293.5 733.0,293.3 734.0,293.5 735.0,292.4 736.0,291.0 737.0,290.9 738.0,291.4 739.0,290.9 740.0,290.0 741.0,290.0 742.0,288.9 743.0,288.2 744.0,288.4 745.0,288.4 746.0,288.4 747.0,287.6 748.0,287.5 749.0,287.1 750.0,286.9 751.0,287.0 752.0,286.6 753.0,286.4 754.0,286.7 755.0,286.7 756.0,286.3 757.0,286.4 758.0,285.7 759.0,285.5 760.0,285.7 761.0,285.4 762.0,284.9 763.0,284.4 764.0,284.6 765.0,285.3 766.0,284.4 767.0,283.6 768.0,283.5 769.0,283.3 770.0,283.3 771.0,283.1 772.0,281.6 773.0,280.7 774.0,281.1 775.0,281.0 776.0,280.8 777.0,280.3 778.0,280.5 779.0,281.1 780.0,279.5 781.0,278.4 782.0,279.3 783.0,279.1 784.0,278.5 785.0,277.7 786.0,277.1 787.0,277.6 788.0,278.0 789.0,277.5 790.0,276.4 791.0,276.1 792.0,276.0 793.0,275.9 794.0,275.7 795.0,274.9 796.0,274.7 797.0,274.2 798.0,274.1 799.0,274.6 800.0,273.6 801.0,273.0 802.0,272.8 803.0,272.7 804.0,273.1 805.0,272.3 806.0,272.1 807.0,271.7 808.0,270.8 809.0,270.5 810.0,270.3 811.0,270.1 812.0,269.9 813.0,269.5 814.0,269.5 815.0,269.7 816.0,269.0 817.0,267.8 818.0,267.9 819.0,268.6 820.0,267.9 821.0,266.8 822.0,266.6 823.0,267.3 824.0,266.3 825.0,265.6 826.0,265.9 827.0,265.1 828.0,265.1 829.0,264.6 830.0,264.2 831.0,264.9 832.0,264.5 833.0,263.5 834.0,262.5 835.0,262.0 836.0,261.7 837.0,262.4 838.0,262.7 839.0,261.4 840.0,260.8 841.0,260.5 842.0,260.5 842.0,258.4 841.7,258.0 840.7,258.5 839.7,259.5 838.7,260.0 837.7,259.6 836.7,259.2 835.7,259.4 834.7,259.6 833.7,259.8 832.7,260.9 831.7,261.3 830.7,261.8 829.7,261.6 828.7,261.7 827.7,262.6 826.7,262.7 825.7,262.6 824.7,262.6 823.7,263.4 822.7,264.5 821.7,264.7 820.7,263.8 819.7,264.7 818.7,265.6 817.7,264.5 816.7,264.6 815.7,265.3 814.7,265.5 813.7,266.2 812.7,265.7 811.7,266.3 810.7,267.6 809.7,266.6 808.7,266.6 807.7,267.9 806.7,268.1 805.7,268.6 804.7,269.0 803.7,269.6 802.7,269.7 801.7,269.1 800.7,269.5 799.7,270.4 798.7,271.2 797.7,270.5 796.7,270.5 795.7,271.5 794.7,272.0 793.7,273.1 792.7,273.8 791.7,273.5 790.7,273.1 789.7,273.1 788.7,274.2 787.7,274.7 786.7,274.3 785.7,274.3 784.7,275.6 783.7,276.0 782.7,275.7 781.7,276.4 780.7,276.3 779.7,276.7 778.7,276.5 777.7,276.4 776.7,277.3 775.7,277.0 774.7,277.5 773.7,279.1 772.7,279.7 771.7,279.2 770.7,279.3 769.7,280.1 768.7,280.5 767.7,279.5 766.7,279.5 765.7,281.0 764.7,281.5 763.7,281.4 762.7,281.1 761.7,280.9 760.7,281.2 759.7,282.7 758.7,283.1 757.7,282.5 756.7,283.4 755.7,284.1 754.7,284.6 753.7,284.5 752.7,284.2 751.7,284.5 750.7,284.1 749.7,283.8 748.7,284.0 747.7,284.0 746.7,284.4 745.7,285.2 744.7,285.6 743.7,285.5 742.7,285.5 741.7,286.7 740.7,286.9 739.7,285.8 738.7,286.4 737.7,287.5 736.7,286.7 735.7,285.7 734.7,286.2 733.7,287.1 732.7,287.8 731.7,289.1 730.7,290.1 729.7,289.9 728.7,289.0 727.7,288.9 726.7,290.9 725.7,292.9 724.7,292.3 723.7,291.9 722.7,292.0 721.7,291.6 720.7,292.9 719.7,293.9 718.7,294.6 717.7,295.2 716.7,294.9 715.7,295.2 714.7,295.8 713.7,295.8 712.7,295.2 711.7,295.1 710.7,295.0 709.7,295.2 708.7,295.4 707.7,296.3 706.7,296.6 705.7,297.2 704.7,297.3 703.7,297.0 702.7,297.7 701.7,298.1 700.7,298.4 699.7,297.4 698.7,297.4 697.7,297.5 696.7,297.7 695.7,298.7 694.7,299.2 693.7,299.8 692.7,299.8 691.7,300.1 690.7,301.2 689.7,302.1 688.7,302.5 687.7,303.1 686.7,302.7 685.7,303.3 684.7,303.4 683.7,304.3 682.7,304.6 681.7,305.3 680.7,305.0 679.7,305.4 678.7,306.1 677.7,305.7 676.7,305.3 675.7,305.5 674.7,305.9 673.7,305.8 672.7,306.2 671.7,305.9 670.7,305.5 669.7,305.8 668.7,306.4 667.7,305.9 666.7,306.6 665.7,306.7 664.7,305.9 663.7,304.9 662.7,305.5 661.7,305.9 660.7,306.9 659.7,307.3 658.7,308.4 657.7,309.2 656.7,309.1 655.7,308.9 654.7,309.9 653.7,310.2 652.7,310.7 651.7,311.2 650.7,312.3 649.7,312.7 648.7,312.7 647.7,312.7 646.7,313.0 645.7,312.6 644.7,312.3 643.7,312.6 642.7,313.9 641.7,315.2 640.7,316.2 639.7,317.2 638.7,319.4 637.7,319.2 636.7,319.6 635.7,320.2 634.7,321.2 633.7,320.3 632.7,321.2 631.7,320.9 630.7,321.2 629.7,321.0 628.7,321.0 627.7,320.9 626.7,321.4 625.7,322.2 624.7,322.0 623.7,322.4 622.7,321.8 621.7,322.2 620.7,321.8 619.7,322.4 618.7,322.5 617.7,323.3 616.7,323.0 615.7,323.8 614.7,324.5 613.7,326.1 612.7,327.2 611.7,328.3 610.7,327.8 609.7,328.1 608.7,327.1 607.7,327.3 606.7,326.9 605.7,327.2 604.7,326.6 603.7,326.6 602.7,326.7 601.7,327.4 600.7,328.0 599.7,328.9 598.7,330.0 597.7,330.5 596.7,331.2 595.7,331.9 594.7,332.5 593.7,332.9 592.7,332.8 591.7,333.4 590.7,333.9 589.7,334.2 588.7,334.1 587.7,334.2 586.7,333.6 585.7,333.6 584.7,333.9 583.7,334.5 582.7,335.2 581.7,335.7 580.7,335.9 579.7,336.1 578.7,336.7 577.7,336.8 576.7,337.3 575.7,338.1 574.7,338.3 573.7,338.5 572.7,338.7 571.7,338.8 570.7,338.6 569.7,338.9 568.7,338.6 567.7,338.8 566.7,338.8 565.7,338.7 564.7,338.8 563.7,339.4 562.7,339.7 561.7,340.2 560.7,340.8 559.7,341.4 558.7,342.0 557.7,342.7 556.7,343.4 555.7,344.1 554.7,344.7 553.7,345.1 552.7,345.6 551.7,346.0 550.7,346.2 549.7,346.3 548.7,346.3 547.7,346.3 546.7,346.3 545.7,346.3 544.7,346.3 543.7,346.3 542.7,346.3 541.7,346.4 540.7,346.5 539.7,346.7 538.7,346.9 537.7,347.2 536.7,347.5 535.7,348.1 534.7,348.8 533.7,349.5 532.7,350.1 531.7,350.6 530.7,351.0 529.7,351.4 528.7,351.8 527.7,352.2 526.7,352.6 525.7,353.0 524.7,353.4 523.7,353.8 522.7,354.2 521.7,354.7 520.7,355.4 519.7,356.2 518.7,356.9 517.7,357.5 516.7,357.9 515.7,357.9 514.7,357.8 513.7,357.8 512.7,357.7 511.7,357.6 510.7,357.5 509.7,357.4 508.7,357.4 507.7,357.5 506.7,357.7 505.7,358.1 504.7,358.5 503.7,359.0 502.7,359.5 501.7,359.9 500.7,360.2 499.7,360.6 498.7,360.9 497.7,361.3 496.7,361.6 495.7,362.0 494.7,362.4 493.7,362.9 492.7,363.4 491.7,364.1 490.7,364.7 489.7,365.3 488.7,365.9 487.7,366.4 486.7,366.7 485.7,367.0 484.7,367.3 483.7,367.6 482.7,367.8 481.7,368.0 480.7,368.3 479.7,368.5 478.7,368.7 477.7,369.0 476.7,369.2 475.7,369.4 474.7,369.6 473.7,369.9 472.7,370.1 471.7,370.4 470.7,370.7 469.7,371.0 468.7,371.4 467.7,371.9 466.7,372.5 465.7,373.1 464.7,373.6 463.7,374.2 462.7,374.7 461.7,375.2 460.7,375.7 459.7,376.2 458.7,376.7 457.7,377.1 456.7,377.4 455.7,377.5 454.7,377.6 453.7,377.7 452.7,377.7 451.7,377.8 450.7,377.8 449.7,377.9 448.7,378.0 447.7,378.1 446.7,378.3 445.7,378.6 444.7,379.0 443.7,379.4 442.7,379.9 441.7,380.3 440.7,380.8 439.7,381.3 438.7,382.0 437.7,382.7 436.7,383.4 435.7,384.0 434.7,384.5 433.7,384.8 432.7,385.0 431.7,385.0 430.7,385.1 429.7,385.2 428.7,385.3 427.7,385.5 426.7,385.7 425.7,385.9 424.7,386.2 423.7,386.4 422.7,386.7 421.7,387.0 420.7,387.3 419.7,387.6 418.7,387.9 417.7,388.2 416.7,388.5 415.7,388.8 414.7,389.2 413.7,389.5 412.7,389.9 411.7,390.3 410.7,390.7 409.7,391.1 408.7,391.5 407.7,392.0 406.7,392.5 405.7,393.0 404.7,393.5 403.7,394.1 402.7,394.6 401.7,395.1 400.7,395.6 399.7,396.0 398.7,396.5 397.7,397.0 396.7,397.4 395.7,397.9 394.7,398.3 393.7,398.7 392.7,399.0 391.7,399.3 390.7,399.5 389.7,399.7 388.7,399.9 387.7,400.1 386.7,400.2 385.7,400.3 384.7,400.5 383.7,400.6 382.7,400.7 381.7,400.8 380.7,401.0 379.7,401.1 378.7,401.2 377.7,401.4 376.7,401.5 375.7,401.7 374.7,401.9 373.7,402.0 372.7,402.2 371.7,402.4 370.7,402.6 369.7,402.8 368.7,403.0 367.7,403.2 366.7,403.4 365.7,403.6 364.7,403.8 363.7,404.1 362.7,404.3 361.7,404.6 360.7,404.9 359.7,405.3 358.7,405.8 357.7,406.3 356.7,406.7 355.7,407.2 354.7,407.7 353.7,408.2 352.7,408.7 351.7,409.1 350.7,409.5 349.7,409.8 348.7,410.1 347.7,410.2 346.7,410.4 345.7,410.5 344.7,410.6 343.7,410.7 342.7,410.8 341.7,410.9 340.7,410.9 340.7,410.9 340.6,410.9 340.1,410.8 339.6,410.8 339.1,410.7 338.6,410.6 338.1,410.5 337.6,410.3 337.1,410.2 336.6,410.1 336.1,409.9 335.6,409.7 335.1,409.5 334.6,409.3 334.1,409.1 333.6,408.9 333.1,408.7 332.6,408.4 332.1,408.2 331.6,407.9 331.1,407.7 330.6,407.4 330.1,407.0 329.6,406.7 329.1,406.3 328.6,405.9 328.1,405.5 327.6,405.0 327.6,405.0 325.4,402.5 323.5,400.0 322.1,397.5 321.0,395.0 320.1,392.5 319.2,390.0 318.2,387.5 317.4,385.0 316.5,382.5 315.7,380.0 314.9,377.5 314.2,375.0 313.4,372.5 312.8,370.0 312.2,367.5 311.7,365.0 311.3,362.5 310.8,360.0 310.4,357.5 309.8,355.0 309.2,352.5 308.5,350.0 307.8,347.5 307.0,345.0 306.2,342.5 305.5,340.0 304.7,337.5 304.0,335.0 303.4,332.5 302.7,330.0 302.1,327.5 301.5,325.0 300.9,322.5 300.2,320.0 299.5,317.5 298.8,315.0 298.1,312.5 297.4,310.0 296.7,307.5 296.0,305.0 295.2,302.5 294.5,300.0"/>
<polygon id="pdr" fill="#aa0000" points="293.5,300.0 294.1,302.0 294.7,304.0 295.2,306.0 295.8,308.0 296.3,310.0 296.9,312.0 297.4,314.0 297.9,316.0 298.4,318.0 298.9,320.0 299.4,322.0 299.8,324.0 300.3,326.0 300.7,328.0 301.2,330.0 301.6,332.0 302.0,334.0 302.4,336.0 302.9,338.0 303.3,340.0 303.7,342.0 304.2,344.0 304.6,346.0 305.0,348.0 305.5,350.0 305.9,352.0 306.3,354.0 306.7,356.0 307.1,358.0 307.5,360.0 307.9,362.0 308.3,364.0 308.7,366.0 309.1,368.0 309.5,370.0 309.9,372.0 310.3,374.0 310.7,376.0 311.1,378.0 311.5,380.0 311.9,382.0 312.3,384.0 312.7,386.0 313.1,388.0 313.5,390.0 313.9,392.0 314.3,394.0 314.7,396.0 315.1,398.0 315.5,400.0 315.9,402.0 316.3,404.0 316.7,406.0 317.1,408.0 317.5,410.0 317.8,412.0 318.2,414.0 318.5,416.0 318.8,418.0 319.1,420.0 319.4,422.0 319.7,424.0 320.1,426.0 320.4,428.0 320.7,430.0 321.1,432.0 321.4,434.0 321.7,436.0 322.0,438.0 322.3,440.0 322.6,442.0 322.9,444.0 323.2,446.0 323.5,448.0 323.8,450.0 324.1,452.0 324.4,454.0 324.7,456.0 325.0,458.0 325.3,460.0 325.6,462.0 326.0,464.0 326.3,466.0 326.6,468.0 327.0,470.0 327.4,472.0 327.7,474.0 328.1,476.0 328.5,478.0 329.0,480.0 329.4,482.0 330.0,484.0 330.6,486.0 331.4,488.0 332.2,490.0 332.3,490.2 333.3,491.6 334.7,492.2 334.7,492.2 335.7,491.7 336.7,491.2 337.7,490.6 338.7,490.0 339.7,489.4 340.7,488.8 341.7,488.2 342.7,487.6 343.7,487.0 344.7,486.4 345.7,485.8 346.7,485.2 347.7,484.5 348.7,483.8 349.7,483.0 350.7,482.1 351.7,481.3 352.7,480.4 353.7,479.7 354.7,479.0 355.7,478.3 356.7,477.7 357.7,477.0 358.7,476.4 359.7,475.8 360.7,475.3 361.7,474.9 362.7,474.4 363.7,474.0 364.7,473.6 365.7,473.2 366.7,472.9 367.7,472.6 368.7,472.3 369.7,472.0 370.7,471.8 371.7,471.7 372.7,471.5 373.7,471.4 374.7,471.2 375.7,471.1 376.7,470.9 377.7,470.8 378.7,470.6 379.7,470.4 380.7,470.2 381.7,470.0 382.7,469.8 383.7,469.6 384.7,469.4 385.7,469.2 386.7,469.1 387.7,468.9 388.7,468.8 389.7,468.7 390.7,468.6 391.7,468.5 392.7,468.4 393.7,468.3 394.7,468.2 395.7,468.1 396.7,468.0 397.7,467.8 398.7,467.7 399.7,467.6 400.7,467.4 401.7,467.3 402.7,467.1 403.7,466.9 404.7,466.6 405.7,466.3 406.7,465.9 407.7,465.5 408.7,465.0 409.7,464.4 410.7,463.6 411.7,462.8 412.7,462.0 413.7,461.3 414.7,460.7 415.7,460.1 416.7,459.6 417.7,459.1 418.7,458.6 419.7,458.1 420.7,457.6 421.7,457.1 422.7,456.7 423.7,456.3 424.7,455.9 425.7,455.5 426.7,455.1 427.7,454.7 428.7,454.4 429.7,454.1 430.7,453.8 431.7,453.5 432.7,453.2 433.7,453.0 434.7,452.7 435.7,452.5 436.7,452.3 437.7,452.1 438.7,451.8 439.7,451.6 440.7,451.4 441.7,451.1 442.7,450.9 443.7,450.6 444.7,450.3 445.7,450.0 446.7,449.6 447.7,449.3 448.7,448.9 449.7,448.5 450.7,448.2 451.7,447.8 452.7,447.5 453.7,447.2 454.7,447.0 455.7,446.8 456.7,446.7 457.7,446.6 458.7,446.6 459.7,446.6 460.7,446.6 461.7,446.6 462.7,446.6 463.7,446.6 464.7,446.6 465.7,446.6 466.7,446.6 467.7,446.3 468.7,445.7 469.7,445.0 470.7,444.4 471.7,443.7 472.7,443.0 473.7,442.2 474.7,441.6 475.7,441.0 476.7,440.5 477.7,440.2 478.7,440.0 479.7,439.9 480.7,439.7 481.7,439.6 482.7,439.5 483.7,439.4 484.7,439.2 485.7,439.1 486.7,438.9 487.7,438.6 488.7,438.3 489.7,437.8 490.7,437.2 491.7,436.6 492.7,435.9 493.7,435.2 494.7,434.5 495.7,433.5 496.7,432.6 497.7,431.7 498.7,430.9 499.7,430.5 500.7,430.2 501.7,430.1 502.7,429.9 503.7,429.7 504.7,429.5 505.7,429.3 506.7,428.8 507.7,428.2 508.7,427.4 509.7,426.5 510.7,425.7 511.7,425.0 512.7,424.4 513.7,423.9 514.7,423.4 515.7,422.9 516.7,422.4 517.7,422.1 518.7,421.8 519.7,421.7 520.7,421.8 521.7,421.9 522.7,422.2 523.7,422.4 524.7,422.7 525.7,422.9 526.7,423.0 527.7,423.0 528.7,422.8 529.7,422.5 530.7,422.2 531.7,421.8 532.7,421.4 533.7,421.0 534.7,420.5 535.7,420.0 536.7,419.4 537.7,418.7 538.7,418.0 539.7,417.3 540.7,416.7 541.7,416.1 542.7,415.6 543.7,415.2 544.7,414.7 545.7,414.3 546.7,414.1 547.7,413.9 548.7,413.7 549.7,413.7 550.7,413.7 551.7,413.4 552.7,413.4 553.7,413.3 554.7,413.0 555.7,413.0 556.7,413.1 557.7,412.7 558.7,412.6 559.7,412.5 560.7,412.3 561.7,412.1 562.7,411.7 563.7,411.8 564.7,411.5 565.7,411.0 566.7,410.3 567.7,410.1 568.7,408.8 569.7,407.9 570.7,407.0 571.7,406.3 572.7,405.7 573.7,405.5 574.7,405.7 575.7,405.6 576.7,405.6 577.7,404.8 578.7,404.2 579.7,403.5 580.7,403.2 581.7,402.9 582.7,402.2 583.7,401.9 584.7,401.3 585.7,400.7 586.7,399.3 587.7,399.5 588.7,399.1 589.7,398.8 590.7,398.5 591.7,399.1 592.7,399.1 593.7,399.7 594.7,399.3 595.7,399.6 596.7,398.9 597.7,398.7 598.7,398.0 599.7,399.1 600.7,399.2 601.7,399.3 602.7,398.8 603.7,398.5 604.7,397.4 605.7,396.6 606.7,396.0 607.7,395.7 608.7,394.4 609.7,392.9 610.7,392.4 611.7,391.7 612.7,391.5 613.7,392.4 614.7,392.5 615.7,392.5 616.7,392.2 617.7,391.6 618.7,390.2 619.7,390.1 620.7,389.9 621.7,388.9 622.7,388.4 623.7,388.5 624.7,388.1 625.7,387.8 626.7,388.4 627.7,388.1 628.7,388.2 629.7,387.7 630.7,386.6 631.7,386.5 632.7,387.1 633.7,386.7 634.7,386.2 635.0,385.7 636.0,385.1 637.0,384.9 638.0,384.7 639.0,382.7 640.0,382.7 641.0,383.4 642.0,382.4 643.0,382.4 644.0,382.5 645.0,382.1 646.0,382.3 647.0,380.6 648.0,379.3 649.0,379.9 650.0,380.1 651.0,380.4 652.0,380.2 653.0,378.7 654.0,379.4 655.0,379.1 656.0,377.2 657.0,376.5 658.0,377.4 659.0,378.3 660.0,376.9 661.0,375.4 662.0,375.6 663.0,376.8 664.0,375.9 665.0,374.3 666.0,374.1 667.0,374.3 668.0,374.1 669.0,373.8 670.0,373.1 671.0,372.6 672.0,373.3 673.0,373.4 674.0,373.7 675.0,373.2 676.0,371.2 677.0,371.1 678.0,371.8 679.0,371.2 680.0,370.1 681.0,370.5 682.0,370.3 683.0,369.1 684.0,367.8 685.0,367.7 686.0,367.2 687.0,366.1 688.0,366.3 689.0,365.9 690.0,365.5 691.0,365.7 692.0,365.5 693.0,365.3 694.0,365.6 695.0,364.7 696.0,364.7 697.0,364.2 698.0,362.4 699.0,362.1 700.0,362.9 701.0,363.0 702.0,362.1 703.0,361.9 704.0,362.5 705.0,363.0 706.0,362.3 707.0,361.1 708.0,359.9 709.0,359.8 710.0,360.6 711.0,359.6 712.0,358.6 713.0,359.5 714.0,359.3 715.0,359.0 716.0,358.3 717.0,358.8 718.0,358.3 719.0,356.4 720.0,356.9 721.0,356.7 722.0,355.6 723.0,355.3 724.0,356.2 725.0,355.6 726.0,354.2 727.0,354.4 728.0,355.5 729.0,354.5 730.0,352.7 731.0,353.0 732.0,354.3 733.0,353.0 734.0,351.6 735.0,351.4 736.0,350.2 737.0,351.4 738.0,351.0 739.0,348.8 740.0,349.8 741.0,350.6 742.0,349.4 743.0,348.9 744.0,348.9 745.0,349.7 746.0,348.9 747.0,346.5 748.0,346.5 749.0,346.2 750.0,345.6 751.0,345.4 752.0,344.9 753.0,345.1 754.0,345.0 755.0,345.1 756.0,344.0 757.0,343.2 758.0,343.5 759.0,343.2 760.0,342.7 761.0,341.6 762.0,342.0 763.0,342.1 764.0,341.6 765.0,341.9 766.0,341.4 767.0,340.3 768.0,340.2 769.0,340.7 770.0,340.1 771.0,339.5 772.0,338.7 773.0,338.3 774.0,339.1 775.0,339.6 776.0,339.7 777.0,337.6 778.0,336.1 779.0,337.0 780.0,337.3 781.0,337.0 782.0,335.2 783.0,334.1 784.0,334.7 785.0,334.6 786.0,334.0 787.0,333.2 788.0,333.0 789.0,332.6 790.0,332.2 791.0,331.8 792.0,331.3 793.0,331.2 794.0,332.0 795.0,331.5 796.0,330.3 797.0,330.4 798.0,329.9 799.0,328.6 800.0,328.7 801.0,329.6 802.0,328.4 803.0,327.8 804.0,328.2 805.0,327.5 806.0,327.8 807.0,327.7 808.0,326.6 809.0,327.4 810.0,327.1 811.0,324.9 812.0,326.0 813.0,327.5 814.0,326.3 815.0,325.2 816.0,325.0 817.0,324.3 818.0,323.9 819.0,324.4 820.0,323.7 821.0,322.5 822.0,321.8 823.0,321.3 824.0,320.9 825.0,320.6 826.0,320.5 827.0,320.6 828.0,320.0 829.0,319.8 830.0,320.9 831.0,320.5 832.0,318.9 833.0,318.8 834.0,317.5 835.0,317.5 836.0,318.2 837.0,317.0 838.0,317.0 839.0,316.8 840.0,315.5 841.0,315.1 842.0,314.8 842.0,312.8 841.0,312.5 840.0,312.5 839.0,313.6 838.0,314.8 837.0,314.5 836.0,313.6 835.0,314.6 834.0,317.1 833.0,316.5 832.0,316.2 831.0,317.2 830.0,316.8 829.0,316.5 828.0,317.5 827.0,317.9 826.0,317.3 825.0,316.3 824.0,315.9 823.0,317.4 822.0,318.2 821.0,319.5 820.0,321.0 819.0,320.2 818.0,320.3 817.0,320.8 816.0,320.9 815.0,321.4 814.0,321.9 813.0,321.5 812.0,321.6 811.0,321.9 810.0,323.0 809.0,323.6 808.0,323.4 807.0,324.2 806.0,324.2 805.0,323.3 804.0,323.7 803.0,323.8 802.0,324.9 801.0,326.7 800.0,326.1 799.0,327.0 798.0,327.5 797.0,327.1 796.0,327.3 795.0,327.8 794.0,327.7 793.0,327.7 792.0,329.0 791.0,330.4 790.0,330.3 789.0,329.2 788.0,328.9 787.0,330.0 786.0,330.6 785.0,329.8 784.0,330.2 783.0,331.2 782.0,331.9 781.0,333.3 780.0,332.6 779.0,331.5 778.0,333.2 777.0,334.9 776.0,334.8 775.0,334.9 774.0,334.5 773.0,334.0 772.0,334.9 771.0,335.9 770.0,335.8 769.0,335.6 768.0,335.9 767.0,336.9 766.0,337.3 765.0,337.0 764.0,337.0 763.0,336.8 762.0,337.9 761.0,338.5 760.0,338.1 759.0,338.2 758.0,338.5 757.0,339.1 756.0,339.4 755.0,340.8 754.0,341.8 753.0,341.9 752.0,341.8 751.0,341.9 750.0,343.1 749.0,343.0 748.0,342.5 747.0,342.6 746.0,342.7 745.0,343.4 744.0,343.9 743.0,344.6 742.0,344.8 741.0,344.5 740.0,345.4 739.0,346.1 738.0,346.4 737.0,346.1 736.0,344.4 735.0,344.9 734.0,347.6 733.0,348.0 732.0,346.9 731.0,348.7 730.0,350.4 729.0,349.9 728.0,349.7 727.0,349.7 726.0,348.6 725.0,349.6 724.0,351.0 723.0,349.8 722.0,350.6 721.0,351.1 720.0,351.5 719.0,352.3 718.0,352.5 717.0,353.5 716.0,353.7 715.0,353.4 714.0,354.8 713.0,354.1 712.0,353.4 711.0,354.5 710.0,354.2 709.0,355.7 708.0,355.8 707.0,354.7 706.0,356.3 705.0,356.8 704.0,356.4 703.0,356.7 702.0,356.0 701.0,357.4 700.0,358.9 699.0,358.7 698.0,359.1 697.0,359.6 696.0,360.6 695.0,359.4 694.0,359.9 693.0,361.6 692.0,361.1 691.0,362.3 690.0,362.4 689.0,361.0 688.0,361.3 687.0,362.9 686.0,363.8 685.0,364.7 684.0,364.3 683.0,363.0 682.0,363.9 681.0,364.0 680.0,363.9 679.0,365.6 678.0,366.0 677.0,366.3 676.0,366.2 675.0,365.9 674.0,366.2 673.0,366.5 672.0,366.3 671.0,366.3 670.0,367.7 669.0,368.1 668.0,368.3 667.0,369.7 666.0,369.7 665.0,368.8 664.0,369.0 663.0,370.2 662.0,371.1 661.0,371.3 660.0,371.8 659.0,372.6 658.0,372.5 657.0,372.7 656.0,373.2 655.0,372.6 654.0,373.5 653.0,375.6 652.0,375.4 651.0,374.4 650.0,375.1 649.0,375.0 648.0,375.0 647.0,374.7 646.0,375.6 645.0,377.3 644.0,377.9 643.0,378.2 642.0,378.2 641.0,379.3 640.0,379.9 639.0,378.3 638.0,377.1 637.0,377.9 636.0,378.8 635.0,378.7 634.1,378.7 633.1,379.1 632.1,380.3 631.1,380.4 630.1,381.0 629.1,381.0 628.1,381.2 627.1,380.7 626.1,380.9 625.1,381.1 624.1,382.1 623.1,381.7 622.1,381.8 621.1,382.5 620.1,383.1 619.1,383.6 618.1,385.5 617.1,386.7 616.1,387.7 615.1,388.0 614.1,388.3 613.1,388.9 612.1,388.2 611.1,388.2 610.1,389.1 609.1,389.5 608.1,388.7 607.1,389.8 606.1,390.4 605.1,389.3 604.1,389.9 603.1,390.0 602.1,390.1 601.1,390.2 600.1,391.4 599.1,391.7 598.1,391.5 597.1,392.4 596.1,392.6 595.1,393.1 594.1,393.2 593.1,393.3 592.1,392.7 591.1,392.8 590.1,392.3 589.1,392.0 588.1,392.5 587.1,392.9 586.1,393.1 585.1,393.9 584.1,394.7 583.1,395.6 582.1,396.7 581.1,396.7 580.1,397.1 579.1,397.9 578.1,398.6 577.1,398.5 576.1,398.9 575.1,399.0 574.1,398.9 573.1,398.8 572.1,398.3 571.1,398.4 570.1,398.2 569.1,397.7 568.1,398.0 567.1,399.0 566.1,400.0 565.1,401.4 564.1,402.7 563.1,403.5 562.1,404.8 561.1,405.5 560.1,406.2 559.1,406.5 558.1,407.0 557.1,406.7 556.1,406.4 555.1,406.1 554.1,406.0 553.1,405.6 552.1,405.3 551.1,405.4 550.1,405.1 549.1,405.3 548.1,405.7 547.1,406.5 546.1,407.2 545.1,408.0 544.1,408.5 543.1,409.1 542.1,409.7 541.1,410.2 540.1,410.8 539.1,411.4 538.1,412.0 537.1,412.6 536.1,413.3 535.1,414.1 534.1,414.8 533.1,415.5 532.1,416.0 531.1,416.3 530.1,416.4 529.1,416.2 528.1,415.9 527.1,415.5 526.1,415.0 525.1,414.7 524.1,414.5 523.1,414.4 522.1,414.4 521.1,414.5 520.1,414.7 519.1,414.8 518.1,415.0 517.1,415.2 516.1,415.5 515.1,415.7 514.1,416.0 513.1,416.5 512.1,417.2 511.1,417.9 510.1,418.7 509.1,419.6 508.1,420.3 507.1,421.0 506.1,421.7 505.1,422.5 504.1,423.2 503.1,423.8 502.1,424.2 501.1,424.4 500.1,424.4 499.1,424.3 498.1,424.2 497.1,424.1 496.1,424.0 495.1,423.9 494.1,423.9 493.1,423.9 492.1,424.1 491.1,424.3 490.1,424.5 489.1,424.8 488.1,425.1 487.1,425.4 486.1,425.8 485.1,426.2 484.1,426.7 483.1,427.3 482.1,427.8 481.1,428.3 480.1,428.8 479.1,429.2 478.1,429.6 477.1,430.0 476.1,430.3 475.1,430.6 474.1,430.9 473.1,431.2 472.1,431.6 471.1,432.0 470.1,432.4 469.1,432.8 468.1,433.4 467.1,434.0 466.1,434.7 465.1,435.4 464.1,436.1 463.1,436.8 462.1,437.5 461.1,438.1 460.1,438.6 459.1,439.0 458.1,439.4 457.1,439.6 456.1,439.7 455.1,439.9 454.1,440.0 453.1,440.2 452.1,440.3 451.1,440.4 450.1,440.5 449.1,440.6 448.1,440.7 447.1,440.8 446.1,440.9 445.1,441.0 444.1,441.2 443.1,441.4 442.1,441.5 441.1,441.7 440.1,442.0 439.1,442.2 438.1,442.4 437.1,442.7 436.1,443.0 435.1,443.2 434.1,443.5 433.1,443.8 432.1,444.1 431.1,444.3 430.1,444.6 429.1,444.9 428.1,445.1 427.1,445.4 426.1,445.6 425.1,445.9 424.1,446.1 423.1,446.4 422.1,446.6 421.1,446.9 420.1,447.1 419.1,447.4 418.1,447.7 417.1,448.0 416.1,448.3 415.1,448.6 414.1,448.9 413.1,449.3 412.1,449.7 411.1,450.1 410.1,450.5 409.1,450.9 408.1,451.4 407.1,451.8 406.1,452.3 405.1,452.8 404.1,453.2 403.1,453.7 402.1,454.2 401.1,454.7 400.1,455.2 399.1,455.7 398.1,456.2 397.1,456.7 396.1,457.3 395.1,457.8 394.1,458.2 393.1,458.7 392.1,459.2 391.1,459.7 390.1,460.2 389.1,460.7 388.1,461.1 387.1,461.5 386.1,462.0 385.1,462.4 384.1,462.8 383.1,463.2 382.1,463.6 381.1,464.0 380.1,464.3 379.1,464.6 378.1,464.9 377.1,465.2 376.1,465.5 375.1,465.7 374.1,466.0 373.1,466.2 372.1,466.3 371.1,466.5 370.1,466.6 369.1,466.6 368.1,466.7 367.1,466.7 366.1,466.7 365.1,466.8 364.1,466.8 363.1,466.8 362.1,466.8 361.1,466.8 360.1,466.9 359.1,466.9 358.1,467.0 357.1,467.0 356.1,467.3 355.1,467.6 355.1,467.9 354.7,468.0 354.2,468.1 353.7,468.2 353.2,468.3 352.7,468.4 352.2,468.5 351.7,468.6 351.2,468.7 350.7,468.8 350.2,468.9 349.7,469.0 349.2,469.1 348.7,469.1 348.2,469.2 347.7,469.2 347.2,469.3 346.7,469.3 346.2,469.4 345.7,469.4 345.2,469.5 344.7,469.5 344.2,469.6 343.7,469.6 343.2,469.6 342.7,469.6 342.2,469.7 341.7,469.7 341.2,469.7 340.7,469.7 340.2,469.7 339.7,469.6 339.2,469.5 338.7,469.4 338.2,469.2 337.7,469.0 337.2,468.8 336.7,468.5 336.2,468.3 335.7,468.0 335.2,467.6 334.7,467.1 334.2,466.5 333.7,465.9 333.2,465.2 332.7,464.5 332.0,462.5 331.0,460.0 330.1,457.5 329.1,455.0 328.1,452.5 327.4,450.0 326.9,447.5 326.5,445.0 326.2,442.5 325.8,440.0 325.3,437.5 324.6,435.0 324.0,432.5 323.3,430.0 322.6,427.5 321.9,425.0 321.3,422.5 320.7,420.0 320.1,417.5 319.5,415.0 318.9,412.5 318.3,410.0 317.8,407.5 317.2,405.0 316.7,402.5 316.2,400.0 315.7,397.5 315.2,395.0 314.7,392.5 314.2,390.0 313.7,387.5 313.2,385.0 312.7,382.5 312.2,380.0 311.7,377.5 311.2,375.0 310.7,372.5 310.2,370.0 309.7,367.5 309.2,365.0 308.7,362.5 308.2,360.0 307.6,357.5 307.1,355.0 306.6,352.5 306.1,350.0 305.6,347.5 305.0,345.0 304.5,342.5 303.9,340.0 303.3,337.5 302.7,335.0 302.2,332.5 301.6,330.0 301.0,327.5 300.4,325.0 299.7,322.5 299.1,320.0 298.5,317.5 297.9,315.0 297.2,312.5 296.6,310.0 295.9,307.5 295.2,305.0 294.6,302.5 293.9,300.0"/>
<path d="M299.46,330V500 M302.99,330V500 M306.42,330V500 M309.77,330V500 M313.04,330V500 M316.24,330V500 M319.36,330V500 M322.41,330V500 M325.40,330V500 M328.32,330V500 M331.18,330V500 M333.98,330V500 M336.73,330V500 M339.42,330V500 M342.07,330V500 M344.66,330V500 M347.20,330V500 M349.70,330V500 M352.15,330V500 M354.56,330V500 M356.93,330V500 M359.26,330V500 M361.55,330V500 M363.80,330V500 M366.01,330V500 M368.19,330V500 M370.34,330V500 M372.45,330V500 M374.53,330V500 M376.59,330V500 M378.61,330V500 M380.60,330V500 M382.56,330V500 M384.49,330V500 M386.40,330V500 M388.28,330V500 M390.14,330V500 M391.97,330V500 M393.78,330V500 M395.56,330V500 M397.32,330V500 M399.06,330V500 M400.78,330V500 M402.47,330V500 M404.15,330V500 M405.80,330V500 M407.44,330V500 M409.05,330V500 M410.65,330V500 M412.23,330V500 M413.79,330V500 M415.33,330V500 M416.86,330V500 M418.37,330V500 M419.86,330V500 M421.34,330V500 M422.80,330V500" stroke="#fff" stroke-opacity="0.13" stroke-width="0.5" fill="none"/>
<path d="M424.25,330V500 M425.68,330V500 M427.09,330V500 M428.50,330V500 M429.88,330V500 M431.26,330V500 M432.62,330V500 M433.96,330V500 M435.30,330V500 M436.62,330V500 M437.93,330V500 M439.22,330V500 M440.51,330V500 M441.78,330V500 M443.04,330V500 M444.29,330V500 M445.52,330V500 M446.75,330V500 M447.97,330V500 M449.17,330V500 M450.36,330V500 M451.55,330V500 M452.72,330V500 M453.89,330V500 M455.04,330V500 M456.19,330V500 M457.32,330V500 M458.45,330V500 M459.56,330V500 M460.67,330V500 M461.77,330V500 M462.86,330V500 M463.94,330V500 M465.01,330V500 M466.08,330V500 M467.14,330V500 M468.18,330V500 M469.22,330V500 M470.26,330V500 M471.28,330V500 M472.30,330V500 M473.31,330V500 M474.31,330V500 M475.31,330V500 M476.30,330V500 M477.28,330V500 M478.25,330V500 M479.22,330V500 M480.18,330V500 M481.13,330V500 M482.08,330V500 M483.02,330V500 M483.96,330V500 M484.88,330V500 M485.81,330V500" stroke="#fff" stroke-opacity="0.07" stroke-width="0.5" fill="none"/>
<path d="M114.3,500.3 L118.3,499.0 L122.3,497.8 L126.3,496.5 L130.3,495.2 L134.3,494.0 L138.3,492.7 L142.3,491.4 L146.3,490.1 L150.3,488.9 L154.3,487.6 L158.3,486.3 L162.3,485.0 L166.3,483.7 L170.3,482.5 L174.3,481.2 L178.3,479.9 L182.3,478.6 L186.3,477.3 L190.3,476.0 L194.3,474.8 L198.3,473.5 L202.3,472.2 L206.3,470.9 L210.3,469.6 L214.3,468.3 L218.3,467.0 L222.3,465.7 L226.3,464.4 L230.3,463.1 L234.3,461.8 L238.3,460.5 L242.3,459.2 L246.3,457.9 L250.3,456.6 L254.3,455.3 L258.3,454.0 L262.3,452.7 L266.3,451.4 L270.3,450.1 L274.3,448.8 L278.3,447.5 L282.3,446.2 L286.3,444.9 L290.3,443.6 L294.3,442.3 L298.3,441.0 L302.3,439.7 L306.3,438.4 L310.3,437.1 L314.3,435.7 L318.3,434.4 L322.3,433.1 L326.3,431.8 L330.3,430.5 L334.3,429.2 L338.3,427.9 L342.3,426.6 L346.3,425.3 L350.3,424.0 L354.3,422.6 L358.3,421.3 L362.3,420.0 L366.3,418.7 L370.3,417.4 L374.3,416.1 L378.3,414.8 L382.3,413.4 L386.3,412.1 L390.3,410.8 L394.3,409.5 L398.3,408.2 L402.3,406.9 L406.3,405.6 L410.3,404.2 L414.3,402.9 L418.3,401.6 L422.3,400.3 L426.3,399.0 L430.3,397.6 L434.3,396.3 L438.3,395.0 L442.3,393.7 L446.3,392.4 L450.3,391.1 L454.3,389.7 L458.3,388.4 L462.3,387.1 L466.3,385.8 L470.3,384.5 L474.3,383.1 L478.3,381.8 L482.3,380.5 L486.3,379.2 L490.3,377.9 L494.3,376.6 L498.3,375.2 L502.3,373.9 L506.3,372.6 L510.3,371.3 L514.3,370.0 L518.3,368.6 L522.3,367.3 L526.3,366.0 L530.3,364.7 L534.3,363.3 L538.3,362.0 L542.3,360.7 L546.3,359.4 L550.3,358.1 L554.3,356.7 L558.3,355.4 L562.3,354.1 L566.3,352.8 L570.3,351.5 L574.3,350.1 L578.3,348.8 L582.3,347.5 L586.3,346.2 L590.3,344.8 L594.3,343.5 L598.3,342.2 L602.3,340.9 L606.3,339.6 L610.3,338.2 L614.3,336.9 L618.3,335.6 L622.3,334.3 L626.3,332.9 L630.3,331.6 L634.3,330.3 L638.3,329.0 L642.3,327.7 L646.3,326.3 L650.3,325.0 L654.3,323.7 L658.3,322.4 L662.3,321.0 L666.3,319.7 L670.3,318.4 L674.3,317.1 L678.3,315.8 L682.3,314.4 L686.3,313.1 L690.3,311.8 L694.3,310.5 L698.3,309.1 L702.3,307.8 L706.3,306.5 L710.3,305.2 L714.3,303.8 L718.3,302.5 L722.3,301.2 L726.3,299.9 L730.3,298.6 L734.3,297.2 L738.3,295.9 L742.3,294.6 L746.3,293.3 L750.3,291.9 L754.3,290.6 L758.3,289.3 L762.3,288.0 L766.3,286.6 L770.3,285.3 L774.3,284.0 L778.3,282.7 L782.3,281.4 L786.3,280.0 L790.3,278.7 L794.3,277.4 L798.3,276.1 L802.3,274.7 L806.3,273.4 L810.3,272.1 L814.3,270.8 L818.3,269.4 L822.3,268.1 L826.3,266.8 L830.3,265.5 L834.3,264.1 L838.3,262.8 L842.0,261.6" fill="none" stroke="#000" stroke-width="2.2"/>
<path d="M114.3,552.8 L118.3,551.5 L122.3,550.3 L126.3,549.0 L130.3,547.7 L134.3,546.5 L138.3,545.2 L142.3,543.9 L146.3,542.6 L150.3,541.4 L154.3,540.1 L158.3,538.8 L162.3,537.5 L166.3,536.2 L170.3,535.0 L174.3,533.7 L178.3,532.4 L182.3,531.1 L186.3,529.8 L190.3,528.5 L194.3,527.3 L198.3,526.0 L202.3,524.7 L206.3,523.4 L210.3,522.1 L214.3,520.8 L218.3,519.5 L222.3,518.2 L226.3,516.9 L230.3,515.6 L234.3,514.3 L238.3,513.0 L242.3,511.7 L246.3,510.4 L250.3,509.1 L254.3,507.8 L258.3,506.5 L262.3,505.2 L266.3,503.9 L270.3,502.6 L274.3,501.3 L278.3,500.0 L282.3,498.7 L286.3,497.4 L290.3,496.1 L294.3,494.8 L298.3,493.5 L302.3,492.2 L306.3,490.9 L310.3,489.6 L314.3,488.2 L318.3,486.9 L322.3,485.6 L326.3,484.3 L330.3,483.0 L334.3,481.7 L338.3,480.4 L342.3,479.1 L346.3,477.8 L350.3,476.5 L354.3,475.1 L358.3,473.8 L362.3,472.5 L366.3,471.2 L370.3,469.9 L374.3,468.6 L378.3,467.3 L382.3,465.9 L386.3,464.6 L390.3,463.3 L394.3,462.0 L398.3,460.7 L402.3,459.4 L406.3,458.1 L410.3,456.7 L414.3,455.4 L418.3,454.1 L422.3,452.8 L426.3,451.5 L430.3,450.1 L434.3,448.8 L438.3,447.5 L442.3,446.2 L446.3,444.9 L450.3,443.6 L454.3,442.2 L458.3,440.9 L462.3,439.6 L466.3,438.3 L470.3,437.0 L474.3,435.6 L478.3,434.3 L482.3,433.0 L486.3,431.7 L490.3,430.4 L494.3,429.1 L498.3,427.7 L502.3,426.4 L506.3,425.1 L510.3,423.8 L514.3,422.5 L518.3,421.1 L522.3,419.8 L526.3,418.5 L530.3,417.2 L534.3,415.8 L538.3,414.5 L542.3,413.2 L546.3,411.9 L550.3,410.6 L554.3,409.2 L558.3,407.9 L562.3,406.6 L566.3,405.3 L570.3,404.0 L574.3,402.6 L578.3,401.3 L582.3,400.0 L586.3,398.7 L590.3,397.3 L594.3,396.0 L598.3,394.7 L602.3,393.4 L606.3,392.1 L610.3,390.7 L614.3,389.4 L618.3,388.1 L622.3,386.8 L626.3,385.4 L630.3,384.1 L634.3,382.8 L638.3,381.5 L642.3,380.2 L646.3,378.8 L650.3,377.5 L654.3,376.2 L658.3,374.9 L662.3,373.5 L666.3,372.2 L670.3,370.9 L674.3,369.6 L678.3,368.3 L682.3,366.9 L686.3,365.6 L690.3,364.3 L694.3,363.0 L698.3,361.6 L702.3,360.3 L706.3,359.0 L710.3,357.7 L714.3,356.3 L718.3,355.0 L722.3,353.7 L726.3,352.4 L730.3,351.1 L734.3,349.7 L738.3,348.4 L742.3,347.1 L746.3,345.8 L750.3,344.4 L754.3,343.1 L758.3,341.8 L762.3,340.5 L766.3,339.1 L770.3,337.8 L774.3,336.5 L778.3,335.2 L782.3,333.9 L786.3,332.5 L790.3,331.2 L794.3,329.9 L798.3,328.6 L802.3,327.2 L806.3,325.9 L810.3,324.6 L814.3,323.3 L818.3,321.9 L822.3,320.6 L826.3,319.3 L830.3,318.0 L834.3,316.6 L838.3,315.3 L842.0,314.1" fill="none" stroke="#000" stroke-width="2.2"/>
</g>
<path d="M114.3,541.60 h8.1 M842.0,541.60 h-8.1 M114.3,489.26 h4.0 M842.0,489.26 h-4.0 M114.3,436.92 h8.1 M842.0,436.92 h-8.1 M114.3,384.58 h4.0 M842.0,384.58 h-4.0 M114.3,332.24 h8.1 M842.0,332.24 h-8.1 M114.3,279.90 h4.0 M842.0,279.90 h-4.0 M114.3,227.56 h8.1 M842.0,227.56 h-8.1 M114.3,175.22 h4.0 M842.0,175.22 h-4.0 M114.3,122.88 h8.1 M842.0,122.88 h-8.1 M114.3,70.54 h4.0 M842.0,70.54 h-4.0 M114.3,18.20 h8.1 M842.0,18.20 h-8.1 M114.30,541.6 v-8.1 M114.30,18.2 v8.1 M209.51,541.6 v-4.0 M209.51,18.2 v4.0 M265.20,541.6 v-4.0 M265.20,18.2 v4.0 M304.71,541.6 v-4.0 M304.71,18.2 v4.0 M335.36,541.6 v-4.0 M335.36,18.2 v4.0 M360.41,541.6 v-4.0 M360.41,18.2 v4.0 M381.58,541.6 v-4.0 M381.58,18.2 v4.0 M399.92,541.6 v-4.0 M399.92,18.2 v4.0 M416.10,541.6 v-4.0 M416.10,18.2 v4.0 M430.57,541.6 v-8.1 M430.57,18.2 v8.1 M525.78,541.6 v-4.0 M525.78,18.2 v4.0 M581.47,541.6 v-4.0 M581.47,18.2 v4.0 M620.99,541.6 v-4.0 M620.99,18.2 v4.0 M651.64,541.6 v-4.0 M651.64,18.2 v4.0 M676.68,541.6 v-4.0 M676.68,18.2 v4.0 M697.85,541.6 v-4.0 M697.85,18.2 v4.0 M716.19,541.6 v-4.0 M716.19,18.2 v4.0 M732.37,541.6 v-4.0 M732.37,18.2 v4.0 M746.84,541.6 v-8.1 M746.84,18.2 v8.1 M842.05,541.6 v-4.0 M842.05,18.2 v4.0" stroke="#000" stroke-width="1.5" fill="none"/>
<path d="M842.5,17.5 V542.3000000000001" stroke="#000" stroke-width="1" fill="none"/>
<rect x="114.3" y="18.2" width="727.75" height="523.4" fill="none" stroke="#000" stroke-width="1.55"/>
<text transform="translate(97.70,554.00) scale(0.943,1)" text-anchor="end" font-size="30.0">10<tspan dy="-14" font-size="24.0">-6</tspan></text>
<text transform="translate(97.70,449.32) scale(0.943,1)" text-anchor="end" font-size="30.0">10<tspan dy="-14" font-size="24.0">-4</tspan></text>
<text transform="translate(97.70,344.64) scale(0.943,1)" text-anchor="end" font-size="30.0">10<tspan dy="-14" font-size="24.0">-2</tspan></text>
<text transform="translate(97.70,239.96) scale(0.943,1)" text-anchor="end" font-size="30.0">10<tspan dy="-14" font-size="24.0">0</tspan></text>
<text transform="translate(97.70,135.28) scale(0.943,1)" text-anchor="end" font-size="30.0">10<tspan dy="-14" font-size="24.0">2</tspan></text>
<text transform="translate(97.70,30.60) scale(0.943,1)" text-anchor="end" font-size="30.0">10<tspan dy="-14" font-size="24.0">4</tspan></text>
<text transform="translate(134.20,580.00) scale(0.943,1)" text-anchor="end" font-size="30.0">10</text>
<text transform="translate(457.90,580.00) scale(0.943,1)" text-anchor="end" font-size="30.0">100</text>
<text transform="translate(782.30,580.00) scale(0.943,1)" text-anchor="end" font-size="30.0">1000</text>
<text transform="translate(706.60,50.50) scale(0.943,1)" text-anchor="end" font-size="30.0">blazars - 10 Hz bg rate</text>
<rect x="723.2" y="33.3" width="84.8" height="14.4" fill="#0000ff"/>
<text transform="translate(706.60,78.70) scale(0.943,1)" text-anchor="end" font-size="30.0">blazars - 100 Hz bg rate</text>
<rect x="723.2" y="61.5" width="84.8" height="14.4" fill="#0000aa" stroke="#0000aa" stroke-width="0.8" stroke-dasharray="5,2.5"/>
<text transform="translate(706.60,107.10) scale(0.943,1)" text-anchor="end" font-size="30.0">DM - 10 Hz bg rate</text>
<rect x="723.2" y="89.9" width="84.8" height="14.4" fill="#ff0000" stroke="#ff0000" stroke-width="0.8" stroke-dasharray="3.5,2.5"/>
<text transform="translate(706.60,135.40) scale(0.943,1)" text-anchor="end" font-size="30.0">DM - 100 Hz bg rate</text>
<rect x="723.2" y="118.2" width="84.8" height="14.4" fill="#aa0000" stroke="#aa0000" stroke-width="0.8" stroke-dasharray="1.6,1.6"/>
<text transform="translate(706.60,163.10) scale(0.943,1)" text-anchor="end" font-size="30.0">Poisson</text>
<path d="M723.1,153.9 H807.8" stroke="#000" stroke-width="2" fill="none"/>
<text transform="translate(477.90,623.00) scale(0.943,1)" text-anchor="middle" font-size="30.0">l</text>
<text transform="translate(21.7,344.6) scale(0.943,1) rotate(-90) scale(0.955,1)" font-size="30.0">l(l+1)C<tspan dy="9" font-size="24.0">l</tspan><tspan dy="-9" font-size="30.0">/2</tspan><tspan font-family="'Liberation Serif',serif" font-size="31.0">π</tspan></text>
</svg></body></html>
